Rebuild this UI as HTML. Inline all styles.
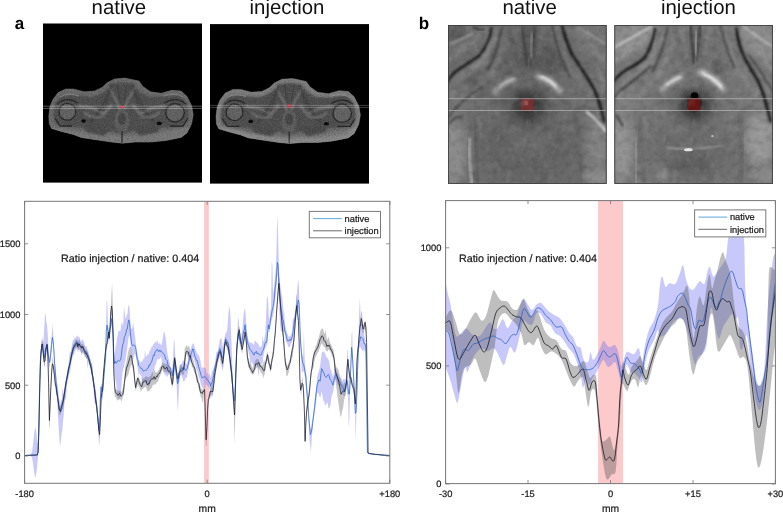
<!DOCTYPE html>
<html><head><meta charset="utf-8"><title>Figure</title>
<style>
html,body{margin:0;padding:0;background:#fff;}
body{width:783px;height:512px;overflow:hidden;font-family:"Liberation Sans", Arial, sans-serif;}
svg{display:block;position:absolute;left:0;top:0;}
text{font-family:"Liberation Sans", Arial, sans-serif;fill:#1a1a1a;text-rendering:geometricPrecision;}
svg{will-change:transform;}
.tk{font-size:9.3px;stroke:#1a1a1a;stroke-width:0.22px;}
.ti{font-size:20.4px;fill:#111;}
.pl{font-size:17px;font-weight:bold;fill:#000;}
.rt{font-size:10.75px;fill:#1c1c1c;stroke:#1c1c1c;stroke-width:0.22px;}
.mm{font-size:10.3px;stroke:#1a1a1a;stroke-width:0.2px;}
</style></head>
<body>
<svg width="783" height="512" viewBox="0 0 783 512">
<defs>

<filter id="b05" x="-20%" y="-20%" width="140%" height="140%"><feGaussianBlur stdDeviation="0.5"/></filter>
<filter id="b1" x="-20%" y="-20%" width="140%" height="140%"><feGaussianBlur stdDeviation="1"/></filter>
<filter id="b2" x="-30%" y="-30%" width="160%" height="160%"><feGaussianBlur stdDeviation="2"/></filter>
<filter id="b3" x="-30%" y="-30%" width="160%" height="160%"><feGaussianBlur stdDeviation="3.2"/></filter>
<filter id="b5" x="-40%" y="-40%" width="180%" height="180%"><feGaussianBlur stdDeviation="5"/></filter>
<filter id="b8" x="-50%" y="-50%" width="200%" height="200%"><feGaussianBlur stdDeviation="8"/></filter>
<filter id="nz" x="0" y="0" width="100%" height="100%">
 <feTurbulence type="fractalNoise" baseFrequency="0.75" numOctaves="2" seed="4" result="n"/>
 <feColorMatrix in="n" type="matrix" values="0 0 0 0 1  0 0 0 0 1  0 0 0 0 1  2.2 0 0 0 -0.85" result="na"/>
 <feComposite in="na" in2="SourceGraphic" operator="in"/>
</filter>
<filter id="nzd" x="0" y="0" width="100%" height="100%">
 <feTurbulence type="fractalNoise" baseFrequency="0.7" numOctaves="2" seed="11" result="n"/>
 <feColorMatrix in="n" type="matrix" values="0 0 0 0 0  0 0 0 0 0  0 0 0 0 0  0 2.2 0 0 -0.85" result="na"/>
 <feComposite in="na" in2="SourceGraphic" operator="in"/>
</filter>
<filter id="mtw" x="0" y="0" width="100%" height="100%">
 <feTurbulence type="fractalNoise" baseFrequency="0.14 0.11" numOctaves="3" seed="5" result="n"/>
 <feColorMatrix in="n" type="matrix" values="0 0 0 0 1  0 0 0 0 1  0 0 0 0 1  3 0 0 0 -1.35" result="na"/>
 <feComposite in="na" in2="SourceGraphic" operator="in"/>
</filter>
<filter id="mtd" x="0" y="0" width="100%" height="100%">
 <feTurbulence type="fractalNoise" baseFrequency="0.12 0.15" numOctaves="3" seed="23" result="n"/>
 <feColorMatrix in="n" type="matrix" values="0 0 0 0 0  0 0 0 0 0  0 0 0 0 0  0 3 0 0 -1.35" result="na"/>
 <feComposite in="na" in2="SourceGraphic" operator="in"/>
</filter>
<path id="bodyo" d="M125 78.1 L114.6 78.9 L107 82.7 L102.4 87.2 L94.8 91 L84.2 91.8 L73.5 89 L65.9 89 L58.2 92.6 L52.9 99.4 L49.9 107 L48.8 116.2 L49.3 123.8 L51.6 128.4 L61.3 131.4 L73.5 134.5 L81.1 137.5 L96.3 139.8 L111.6 142.1 L122.6 143.2 L135.2 142.1 L150.5 142.1 L165.7 140.6 L181 137.5 L187 133 L191.6 123.8 L193.2 114.7 L191.6 105.5 L187 96.4 L181 91 L171.8 90.3 L161.2 93.3 L150.5 91.8 L142.9 86.5 L139 81.1 L129.1 78.9Z"/>
<clipPath id="bodyc"><use href="#bodyo"/></clipPath>
<clipPath id="ia1"><rect x="43" y="23.5" width="159" height="159.1"/></clipPath>
<clipPath id="ib1"><rect x="0" y="0" width="158.6" height="158.7"/></clipPath>
<g id="pelvis">
 <use href="#bodyo" fill="#6a6a6a"/>
 <g clip-path="url(#bodyc)">
  <!-- inner muscle mass (darker) -->
  <path d="M122 82 L110 84 L104 92 L92 97 L76 95 L62 95 L55 103 L53 115 L56 124 L70 127 L84 128 L96 131 L110 131 L122 134 L134 131 L148 131 L160 128 L174 127 L186 124 L189 114 L187 103 L180 95 L166 96 L150 97 L140 92 L134 84Z" fill="#4e4e4e" filter="url(#b1)"/>
  <!-- lower fat brighter -->
  <path d="M50 126 L75 131 L100 134 L122 136 L146 134 L170 131 L192 126 L192 146 L50 146Z" fill="#7a7a7a" filter="url(#b1)" opacity="0.9"/>
  <!-- gluteal muscles darker wedges -->
  <path d="M84 124 L112 128 L104 136 L86 132Z" fill="#4a4a4a" filter="url(#b1)"/>
  <path d="M160 124 L132 128 L140 136 L158 132Z" fill="#4a4a4a" filter="url(#b1)"/>
  <!-- femoral heads -->
  <circle cx="67.4" cy="111.8" r="8.4" fill="#626262" stroke="#262626" stroke-width="1.3" filter="url(#b05)"/>
  <circle cx="175" cy="112.8" r="9.2" fill="#626262" stroke="#262626" stroke-width="1.3" filter="url(#b05)"/>
  <path d="M57 104 Q67 96 78 103" fill="none" stroke="#222" stroke-width="1.2" filter="url(#b05)"/>
  <path d="M186 104 Q176 96 164 103" fill="none" stroke="#222" stroke-width="1.2" filter="url(#b05)"/>
  <path d="M60 97 Q68 92 79 96" fill="none" stroke="#808080" stroke-width="1.2" filter="url(#b05)"/>
  <path d="M183 97 Q175 92 163 96" fill="none" stroke="#808080" stroke-width="1.2" filter="url(#b05)"/>
  <!-- greater trochanter / dark rims -->
  <path d="M55 118 L60 126 L72 126" fill="none" stroke="#242424" stroke-width="1.3" filter="url(#b05)"/>
  <path d="M188 118 L183 126 L170 126" fill="none" stroke="#242424" stroke-width="1.3" filter="url(#b05)"/>
  <!-- ischium bright streaks -->
  <path d="M78 106 L92 108 L104 114 L112 104" fill="none" stroke="#8e8e8e" stroke-width="1.5" filter="url(#b1)"/>
  <path d="M166 106 L152 108 L140 114 L132 104" fill="none" stroke="#8e8e8e" stroke-width="1.5" filter="url(#b1)"/>
  <path d="M108 86 L116 100 L120 110" fill="none" stroke="#808080" stroke-width="1.6" filter="url(#b1)"/>
  <path d="M136 86 L128 100 L124 110" fill="none" stroke="#808080" stroke-width="1.6" filter="url(#b1)"/>
  <path d="M112 84 L106 100 L96 116 L90 122" fill="none" stroke="#303030" stroke-width="1.4" filter="url(#b1)"/>
  <path d="M132 84 L138 100 L148 116 L154 122" fill="none" stroke="#303030" stroke-width="1.4" filter="url(#b1)"/>
  <path d="M84 112 Q92 120 104 116" fill="none" stroke="#7a7a7a" stroke-width="1.8" filter="url(#b1)"/>
  <path d="M160 112 Q152 120 140 116" fill="none" stroke="#7a7a7a" stroke-width="1.8" filter="url(#b1)"/>
  <!-- air gaps -->
  <ellipse cx="83.6" cy="121" rx="2.4" ry="1.8" fill="#050505"/>
  <ellipse cx="159.2" cy="123.4" rx="2.6" ry="1.8" fill="#050505"/>
  <!-- central organ -->
  <ellipse cx="122" cy="121" rx="7.4" ry="12" fill="#5c5c5c" filter="url(#b05)"/>
  <ellipse cx="122" cy="119" rx="4" ry="6" fill="#444" filter="url(#b05)"/>
  <path d="M122 131 L122 144" stroke="#222" stroke-width="1.2"/>
  <path d="M117 84 L120 100 M127 84 L124 100" stroke="#3c3c3c" stroke-width="1" filter="url(#b05)"/>
  <!-- speckle -->
  <use href="#bodyo" fill="#fff" filter="url(#nz)" opacity="0.10"/>
  <use href="#bodyo" fill="#000" filter="url(#nzd)" opacity="0.16"/>
 </g>
 <use href="#bodyo" fill="none" stroke="#7c7c7c" stroke-width="0.7" opacity="0.7"/>
</g>

<clipPath id="cl"><rect x="24.6" y="201.3" width="365.2" height="282"/></clipPath>
<clipPath id="cr"><rect x="445.6" y="200.6" width="329.8" height="283"/></clipPath>
</defs>
<rect width="783" height="512" fill="#fff"/>
<!-- titles -->
<text x="91.6" y="14.4" class="ti">native</text>
<text x="249.6" y="14.4" class="ti">injection</text>
<text x="502.4" y="14.4" class="ti">native</text>
<text x="661" y="14.4" class="ti">injection</text>
<text x="14.8" y="29.2" class="pl">a</text>
<text x="418.8" y="29.2" class="pl">b</text>

<!-- panel a -->
<rect x="43" y="23.5" width="159" height="159.1" fill="#000"/>
<use href="#pelvis"/>
<rect x="120" y="105.8" width="4.2" height="2.2" rx="0.8" fill="#cf3048"/>
<path d="M43 106.2h159M43 108.4h159" fill="none" stroke="#fff" stroke-width="0.9" opacity="0.36"/>
<rect x="210" y="24.1" width="159" height="159.5" fill="#000"/>
<g transform="translate(167.2 0.4)"><use href="#pelvis"/><g clip-path="url(#bodyc)"><use href="#bodyo" fill="none" stroke="#fff" stroke-width="9" opacity="0.12" filter="url(#b1)"/></g></g>
<rect x="287.7" y="103.9" width="3.1" height="4.2" rx="0.8" fill="#c62e3e"/>
<path d="M210 105.4h159M210 107.4h159" fill="none" stroke="#fff" stroke-width="0.9" opacity="0.27"/>
<!-- panel b -->
<g transform="translate(448 25.1)"><rect x="0" y="0" width="158.6" height="158.7" fill="#6b6b6b"/>
<g clip-path="url(#ib1)">
<ellipse cx="14" cy="12" rx="30" ry="14" fill="#6e6e6e" filter="url(#b5)" transform="rotate(-28 14 12)"/>
<ellipse cx="20" cy="60" rx="22" ry="16" fill="#626262" filter="url(#b5)" />
<ellipse cx="4" cy="6" rx="14" ry="10" fill="#5a5a5a" filter="url(#b3)" />
<ellipse cx="146" cy="14" rx="26" ry="16" fill="#747474" filter="url(#b5)" transform="rotate(40 146 14)"/>
<ellipse cx="80" cy="22" rx="20" ry="24" fill="#5a5a5a" filter="url(#b5)" />
<ellipse cx="100" cy="36" rx="16" ry="14" fill="#565656" filter="url(#b5)" />
<ellipse cx="58" cy="40" rx="12" ry="14" fill="#626262" filter="url(#b5)" />
<ellipse cx="79" cy="124" rx="46" ry="34" fill="#646464" filter="url(#b8)" />
<ellipse cx="6" cy="128" rx="13" ry="34" fill="#8a8a8a" filter="url(#b5)" />
<ellipse cx="150" cy="118" rx="12" ry="28" fill="#828282" filter="url(#b5)" />
<ellipse cx="150" cy="152" rx="14" ry="8" fill="#8c8c8c" filter="url(#b3)" />
<ellipse cx="10" cy="74" rx="14" ry="16" fill="#747474" filter="url(#b5)" />
<ellipse cx="146" cy="66" rx="10" ry="14" fill="#727272" filter="url(#b5)" />
<path d="M2 19 L24 9" fill="none" stroke="#989898" stroke-width="2" stroke-linecap="round" filter="url(#b1)" />
<path d="M0 34 L22 20 L34 6" fill="none" stroke="#858585" stroke-width="2.4" stroke-linecap="round" filter="url(#b2)" />
<path d="M10 58 L34 36 L48 8" fill="none" stroke="#848484" stroke-width="3" stroke-linecap="round" filter="url(#b2)" />
<path d="M24 70 L46 44 L58 14" fill="none" stroke="#7e7e7e" stroke-width="3" stroke-linecap="round" filter="url(#b2)" />
<path d="M156 18 L134 4" fill="none" stroke="#929292" stroke-width="2.2" stroke-linecap="round" filter="url(#b1)" />
<path d="M158 40 L142 20 L130 2" fill="none" stroke="#8a8a8a" stroke-width="2.6" stroke-linecap="round" filter="url(#b2)" />
<path d="M158 62 L150 44" fill="none" stroke="#8c8c8c" stroke-width="2.4" stroke-linecap="round" filter="url(#b2)" />
<path d="M138 66 L118 36 L106 8" fill="none" stroke="#7a7a7a" stroke-width="3" stroke-linecap="round" filter="url(#b2)" />
<path d="M43.7 3 Q42 18 31 31 Q20 38 9.4 45.3 Q3 50 0 56" fill="none" stroke="#1e1e1e" stroke-width="2.8" stroke-linecap="round" filter="url(#b1)" />
<path d="M47 4 Q46 20 35 34 Q24 42 13 49 Q6 54 2 60" fill="none" stroke="#8a8a8a" stroke-width="2.2" stroke-linecap="round" filter="url(#b2)" />
<path d="M114 1 Q118 16 123.3 28 Q131 40 140.5 54.7 Q148 66 152 80 L156 96" fill="none" stroke="#1c1c1c" stroke-width="3" stroke-linecap="round" filter="url(#b1)" />
<path d="M0 92 Q12 76 34 62" fill="none" stroke="#454545" stroke-width="1.8" stroke-linecap="round" filter="url(#b1)" />
<path d="M26 2 Q30 6 36 4" fill="none" stroke="#3a3a3a" stroke-width="2" stroke-linecap="round" filter="url(#b1)" />
<path d="M55 0 L51 14 Q48 30 40 44" fill="none" stroke="#484848" stroke-width="2.4" stroke-linecap="round" filter="url(#b1)" />
<path d="M104 0 L108 16 Q112 34 122 52" fill="none" stroke="#484848" stroke-width="2.4" stroke-linecap="round" filter="url(#b1)" />
<path d="M74 0 L79 40" fill="none" stroke="#3e3e3e" stroke-width="2.4" stroke-linecap="round" filter="url(#b1)" />
<path d="M88 0 L82 40" fill="none" stroke="#404040" stroke-width="2.2" stroke-linecap="round" filter="url(#b1)" />
<path d="M84 8 L83 32" fill="none" stroke="#8c8c8c" stroke-width="1.8" stroke-linecap="round" filter="url(#b1)" />
<path d="M66 0 L72 30" fill="none" stroke="#7c7c7c" stroke-width="2.4" stroke-linecap="round" filter="url(#b2)" />
<path d="M96 0 L90 30" fill="none" stroke="#7c7c7c" stroke-width="2.4" stroke-linecap="round" filter="url(#b2)" />
<path d="M46 68 Q54 58 66 54" fill="none" stroke="#9e9e9e" stroke-width="4.5" stroke-linecap="round" filter="url(#b2)" />
<path d="M52 62 Q58 56 66 54" fill="none" stroke="#b8b8b8" stroke-width="2.4" stroke-linecap="round" filter="url(#b1)" />
<path d="M90 51 Q102 54 112 66" fill="none" stroke="#c2c2c2" stroke-width="5" stroke-linecap="round" filter="url(#b2)" />
<path d="M93 52 Q102 55 108 62" fill="none" stroke="#e6e6e6" stroke-width="2.6" stroke-linecap="round" filter="url(#b1)" />
<ellipse cx="80" cy="80" rx="27" ry="22" fill="#585858" filter="url(#b5)" opacity="0.75"/>
<ellipse cx="80" cy="81" rx="15.5" ry="15" fill="#3c3c3c" filter="url(#b3)" />
<ellipse cx="80" cy="80" rx="6" ry="6.5" fill="#383838" filter="url(#b1)" />
<rect x="72.9" y="73.3" width="12.9" height="12.6" rx="2.4" fill="#7c3232" opacity="0.92" filter="url(#b05)"/>
<rect x="76" y="76" width="4" height="4" fill="#9a5252" opacity="0.8" filter="url(#b05)"/>
<path d="M22 114 Q20 132 24 158" fill="none" stroke="#b4b4b4" stroke-width="2.2" stroke-linecap="round" filter="url(#b1)" />
<path d="M139 87 Q148 94 158 106" fill="none" stroke="#c4c4c4" stroke-width="2.8" stroke-linecap="round" filter="url(#b1)" />
<path d="M28 96 Q26 124 30 158" fill="none" stroke="#525252" stroke-width="2.6" stroke-linecap="round" filter="url(#b2)" />
<path d="M126 90 Q134 124 132 158" fill="none" stroke="#5a5a5a" stroke-width="2.6" stroke-linecap="round" filter="url(#b2)" />
<path d="M2 98 Q8 90 14 92" fill="none" stroke="#4a4a4a" stroke-width="2" stroke-linecap="round" filter="url(#b1)" />
<ellipse cx="82" cy="118" rx="22" ry="10" fill="#707070" filter="url(#b5)" opacity="0.7"/>
<rect x="0" y="0" width="158.6" height="158.7" fill="#fff" filter="url(#mtw)" opacity="0.07"/>
<rect x="0" y="0" width="158.6" height="158.7" fill="#000" filter="url(#mtd)" opacity="0.09"/>
<path d="M0 73.6h158.6M0 85.4h158.6" fill="none" stroke="#d0d0d0" stroke-width="0.9" opacity="0.6"/>
</g>
<rect x="0.4" y="0.4" width="157.8" height="157.9" fill="none" stroke="#3a3a3a" stroke-width="0.8"/></g>
<g transform="translate(614.4 25.1)"><rect x="0" y="0" width="158.6" height="158.7" fill="#747474"/>
<g clip-path="url(#ib1)">
<ellipse cx="14" cy="14" rx="30" ry="14" fill="#8e8e8e" filter="url(#b5)" transform="rotate(-28 14 14)"/>
<ellipse cx="146" cy="14" rx="26" ry="16" fill="#8c8c8c" filter="url(#b5)" transform="rotate(40 146 14)"/>
<ellipse cx="80" cy="20" rx="22" ry="20" fill="#6a6a6a" filter="url(#b5)" />
<ellipse cx="79" cy="128" rx="44" ry="30" fill="#6c6c6c" filter="url(#b8)" />
<ellipse cx="78" cy="138" rx="22" ry="11" fill="#616161" filter="url(#b5)" />
<ellipse cx="7" cy="124" rx="12" ry="34" fill="#929292" filter="url(#b5)" />
<ellipse cx="146" cy="114" rx="15" ry="26" fill="#979797" filter="url(#b5)" />
<ellipse cx="150" cy="150" rx="12" ry="8" fill="#8a8a8a" filter="url(#b3)" />
<ellipse cx="10" cy="76" rx="13" ry="14" fill="#808080" filter="url(#b5)" />
<ellipse cx="146" cy="66" rx="9" ry="12" fill="#7c7c7c" filter="url(#b5)" />
<path d="M0 22 L22 10 L36 2" fill="none" stroke="#bdbdbd" stroke-width="2.4" stroke-linecap="round" filter="url(#b1)" />
<path d="M0 36 L24 20 L40 4" fill="none" stroke="#999" stroke-width="2.6" stroke-linecap="round" filter="url(#b2)" />
<path d="M8 60 L34 38 L50 8" fill="none" stroke="#8e8e8e" stroke-width="3" stroke-linecap="round" filter="url(#b2)" />
<path d="M26 70 L48 44 L60 12" fill="none" stroke="#8a8a8a" stroke-width="3" stroke-linecap="round" filter="url(#b2)" />
<path d="M158 22 L138 8 L128 0" fill="none" stroke="#b0b0b0" stroke-width="2.4" stroke-linecap="round" filter="url(#b1)" />
<path d="M158 46 L142 22 L132 4" fill="none" stroke="#979797" stroke-width="2.8" stroke-linecap="round" filter="url(#b2)" />
<path d="M140 70 L120 38 L108 8" fill="none" stroke="#8a8a8a" stroke-width="3" stroke-linecap="round" filter="url(#b2)" />
<path d="M40.6 4 Q38 20 30.5 32.5 Q22 40 12 44.7 Q4 50 0 55" fill="none" stroke="#1e1e1e" stroke-width="2.8" stroke-linecap="round" filter="url(#b1)" />
<path d="M36.5 40.6 Q24 52 4 67 L0 72" fill="none" stroke="#444" stroke-width="2" stroke-linecap="round" filter="url(#b1)" />
<path d="M122 4 Q124 20 130 32.5 Q136 44 142 52.8 Q148 64 152 80 L156 96" fill="none" stroke="#1c1c1c" stroke-width="3" stroke-linecap="round" filter="url(#b1)" />
<path d="M134 30 Q146 44 158 66" fill="none" stroke="#4a4a4a" stroke-width="1.8" stroke-linecap="round" filter="url(#b1)" />
<path d="M54 0 L50 16 Q46 32 38 46" fill="none" stroke="#505050" stroke-width="2.4" stroke-linecap="round" filter="url(#b1)" />
<path d="M106 0 L110 16 Q114 30 120 42" fill="none" stroke="#505050" stroke-width="2.4" stroke-linecap="round" filter="url(#b1)" />
<path d="M76 0 L79.5 38" fill="none" stroke="#3a3a3a" stroke-width="2.4" stroke-linecap="round" filter="url(#b1)" />
<path d="M86 0 L82 36" fill="none" stroke="#444" stroke-width="2.2" stroke-linecap="round" filter="url(#b1)" />
<path d="M82 6 L81 30" fill="none" stroke="#a4a4a4" stroke-width="1.8" stroke-linecap="round" filter="url(#b1)" />
<path d="M66 0 L72 32" fill="none" stroke="#8e8e8e" stroke-width="2.6" stroke-linecap="round" filter="url(#b2)" />
<path d="M96 0 L90 30" fill="none" stroke="#8c8c8c" stroke-width="2.6" stroke-linecap="round" filter="url(#b2)" />
<ellipse cx="103.5" cy="42" rx="6.5" ry="8" fill="#5e5e5e" filter="url(#b2)" />
<path d="M48 64 Q56 56 67 51" fill="none" stroke="#b4b4b4" stroke-width="4.5" stroke-linecap="round" filter="url(#b2)" />
<path d="M52 60 Q58 55 66 52" fill="none" stroke="#d8d8d8" stroke-width="2.4" stroke-linecap="round" filter="url(#b1)" />
<path d="M86 47 Q98 51 109 64" fill="none" stroke="#d0d0d0" stroke-width="5" stroke-linecap="round" filter="url(#b2)" />
<path d="M89 48.5 Q99 53 107 62" fill="none" stroke="#f2f2f2" stroke-width="2.6" stroke-linecap="round" filter="url(#b1)" />
<ellipse cx="80" cy="80" rx="26" ry="22" fill="#606060" filter="url(#b5)" opacity="0.75"/>
<ellipse cx="80" cy="80" rx="15" ry="15" fill="#414141" filter="url(#b3)" />
<ellipse cx="80" cy="78" rx="7" ry="8.5" fill="#1e1e1e" filter="url(#b1)" />
<ellipse cx="80.2" cy="70.4" rx="3.6" ry="3.2" fill="#060606" filter="url(#b05)" />
<rect x="73.5" y="73.3" width="12.3" height="12.7" rx="2.4" fill="#6c1818" opacity="0.95" filter="url(#b05)"/>
<path d="M52.8 122.6 Q78 126 105.6 120.6" fill="none" stroke="#989898" stroke-width="1.8" stroke-linecap="round" filter="url(#b1)" />
<ellipse cx="74" cy="124.6" rx="4.4" ry="1.6" fill="#e8e8e8" filter="url(#b05)" />
<ellipse cx="98" cy="111" rx="1.2" ry="1.2" fill="#bbb" filter="url(#b05)" />
<path d="M22 114 Q20 132 22 158" fill="none" stroke="#a8a8a8" stroke-width="2.4" stroke-linecap="round" filter="url(#b2)" />
<path d="M124 90 Q130 120 126 158" fill="none" stroke="#5a5a5a" stroke-width="2.6" stroke-linecap="round" filter="url(#b2)" />
<path d="M26 96 Q24 124 30 158" fill="none" stroke="#5c5c5c" stroke-width="2.4" stroke-linecap="round" filter="url(#b2)" />
<path d="M2 90 L8 100" fill="none" stroke="#4a4a4a" stroke-width="2.4" stroke-linecap="round" filter="url(#b1)" />
<ellipse cx="48" cy="150" rx="5" ry="6" fill="#8e8e8e" filter="url(#b2)" />
<rect x="0" y="0" width="158.6" height="158.7" fill="#fff" filter="url(#mtw)" opacity="0.07"/>
<rect x="0" y="0" width="158.6" height="158.7" fill="#000" filter="url(#mtd)" opacity="0.09"/>
<path d="M0 73.6h158.6M0 85.4h158.6" fill="none" stroke="#d0d0d0" stroke-width="0.9" opacity="0.6"/>
</g>
<rect x="0.4" y="0.4" width="157.8" height="157.9" fill="none" stroke="#3a3a3a" stroke-width="0.8"/></g>

<!-- left plot -->
<g clip-path="url(#cl)">
<rect x="204.1" y="201.3" width="4.8" height="282" fill="#fccaca"/>
<path d="M24.6 455.2 L25.3 455.2 L26 455.1 L26.7 455.1 L27.4 455 L28.1 455 L28.8 455 L29.5 454.9 L30.2 454.7 L30.9 454.2 L31.6 452.8 L32.3 449.9 L33 444.8 L33.7 438.1 L34.4 431.5 L35.1 427.8 L35.8 428.8 L36.5 434 L37.2 440.9 L37.9 444.1 L38.6 426.3 L39.3 392.6 L40 366.2 L40.7 351.9 L41.4 341.7 L42.1 338.7 L42.8 342.3 L43.5 340.2 L44.2 328.4 L44.9 315.3 L45.6 313.7 L46.3 321.5 L47 325 L47.7 333.2 L48.4 346.2 L49.1 354.8 L49.8 357.4 L50.5 348.8 L51.2 341.2 L51.9 332.5 L52.6 323.2 L53.3 334.8 L54 348.6 L54.7 358.7 L55.4 367.1 L56.1 374.6 L56.8 382.4 L57.5 384 L58.2 389.9 L58.9 398.3 L59.6 400.8 L60.3 403.4 L61 399.7 L61.7 400.1 L62.4 388.7 L63.1 390.6 L63.8 394.2 L64.5 389.8 L65.2 383.8 L65.9 378.4 L66.6 375.6 L67.3 372.3 L68 367.5 L68.7 362.4 L69.4 355.3 L70.1 351.2 L70.8 352.5 L71.5 347.3 L72.2 343.6 L72.9 340.1 L73.6 339.9 L74.3 337.5 L75 338.5 L75.7 337.9 L76.4 336.7 L77.1 335.3 L77.8 336.6 L78.5 336.9 L79.2 337.5 L79.9 337.3 L80.6 341.3 L81.3 341 L82 340 L82.7 339 L83.4 340.8 L84.1 342 L84.8 345 L85.5 346.9 L86.2 346.1 L86.9 347.3 L87.6 350.1 L88.3 350.7 L89 354.8 L89.7 356.1 L90.4 359.5 L91.1 362.6 L91.8 366.3 L92.5 369.4 L93.2 375.2 L93.9 378.7 L94.6 385.1 L95.3 387 L96 391.8 L96.7 400.3 L97.4 409.4 L98.1 414 L98.8 423.9 L99.5 427.5 L100.2 394.2 L100.9 384.8 L101.6 383.9 L102.3 385 L103 371.2 L103.7 369 L104.4 364.6 L105.1 356.9 L105.8 346.1 L106.5 302.4 L107.2 299.7 L107.9 321.5 L108.6 332.2 L109.3 330.9 L110 324.5 L110.7 318 L111.4 311.6 L112.1 312.9 L112.8 325.4 L113.5 339.6 L114.2 354.8 L114.9 352.4 L115.6 346.2 L116.3 344.8 L117 337.8 L117.7 335.7 L118.4 330.8 L119.1 331.3 L119.8 330.6 L120.5 331.2 L121.2 324.5 L121.9 321.8 L122.6 325.9 L123.3 322.2 L124 305.7 L124.7 312.8 L125.4 318.2 L126.1 317.5 L126.8 315 L127.5 313.7 L128.2 306.4 L128.9 304.4 L129.6 308.5 L130.3 321.6 L131 328.8 L131.7 328.9 L132.4 326.9 L133.1 322.5 L133.8 327.3 L134.5 332.8 L135.2 337.2 L135.9 344.5 L136.6 350.3 L137.3 353.5 L138 355.8 L138.7 359.9 L139.4 360.8 L140.1 361.5 L140.8 363.3 L141.5 361.2 L142.2 361.4 L142.9 359.7 L143.6 358.6 L144.3 359.3 L145 349 L145.7 356.1 L146.4 356.8 L147.1 355.2 L147.8 353.6 L148.5 355 L149.2 352 L149.9 350.6 L150.6 349.5 L151.3 347.6 L152 345.9 L152.7 346.6 L153.4 343.9 L154.1 343.8 L154.8 342.6 L155.5 341.4 L156.2 343 L156.9 340.5 L157.6 340.8 L158.3 344.5 L159 342.9 L159.7 343.6 L160.4 343.6 L161.1 345.6 L161.8 344.5 L162.5 339.4 L163.2 335.4 L163.9 332.1 L164.6 332.2 L165.3 335.4 L166 339.9 L166.7 347.7 L167.4 352.8 L168.1 357.3 L168.8 359.6 L169.5 361.5 L170.2 365.7 L170.9 366.9 L171.6 368.2 L172.3 370.7 L173 358.8 L173.7 342.8 L174.4 339.1 L175.1 351.9 L175.8 361.9 L176.5 368.6 L177.2 373.2 L177.9 378.9 L178.6 372.9 L179.3 370.4 L180 363.7 L180.7 365.1 L181.4 364 L182.1 362.4 L182.8 361.3 L183.5 360.3 L184.2 361.6 L184.9 362.9 L185.6 363.5 L186.3 363.6 L187 364.2 L187.7 360.8 L188.4 359.5 L189.1 345.9 L189.8 352.3 L190.5 349 L191.2 348.1 L191.9 345 L192.6 343.9 L193.3 343.3 L194 343.9 L194.7 347.1 L195.4 349.5 L196.1 350 L196.8 353 L197.5 353.2 L198.2 355.4 L198.9 354.7 L199.6 357.6 L200.3 360.2 L201 364.3 L201.7 367.7 L202.4 367.8 L203.1 367.2 L203.8 367.4 L204.5 367.5 L205.2 367.9 L205.9 368.4 L206.6 372.9 L207.3 372.7 L208 375.4 L208.7 374.9 L209.4 372.7 L210.1 376.3 L210.8 377.4 L211.5 374.2 L212.2 371.2 L212.9 369.4 L213.6 368.1 L214.3 366.4 L215 361.4 L215.7 357.9 L216.4 351.6 L217.1 352.1 L217.8 351.3 L218.5 347.1 L219.2 343.3 L219.9 338.7 L220.6 339.3 L221.3 337.8 L222 341.2 L222.7 347.2 L223.4 344.3 L224.1 341.1 L224.8 336.5 L225.5 333.4 L226.2 332.5 L226.9 331.5 L227.6 325.2 L228.3 314.6 L229 307.3 L229.7 308.1 L230.4 314.8 L231.1 331.6 L231.8 351.3 L232.5 371 L233.2 385.1 L233.9 392.3 L234.6 397.3 L235.3 379.7 L236 360.2 L236.7 346.1 L237.4 330.6 L238.1 316.4 L238.8 321.1 L239.5 330.1 L240.2 335.6 L240.9 340.2 L241.6 334.8 L242.3 330.6 L243 320.5 L243.7 313 L244.4 310.3 L245.1 307.8 L245.8 316.1 L246.5 326.1 L247.2 333.7 L247.9 338.5 L248.6 340.5 L249.3 342 L250 342 L250.7 343.2 L251.4 342.6 L252.1 342.9 L252.8 343.7 L253.5 345.2 L254.2 343.3 L254.9 341.1 L255.6 340.6 L256.3 342.5 L257 342.6 L257.7 343.3 L258.4 343.9 L259.1 345.8 L259.8 347.6 L260.5 346.4 L261.2 346.9 L261.9 345 L262.6 335.7 L263.3 341.4 L264 340.1 L264.7 337.1 L265.4 331.8 L266.1 316.4 L266.8 298.1 L267.5 296.2 L268.2 301.8 L268.9 317.9 L269.6 319.3 L270.3 311.8 L271 307.7 L271.7 261.7 L272.4 265.1 L273.1 294.3 L273.8 290 L274.5 281.7 L275.2 274.8 L275.9 267.3 L276.6 245 L277.3 214.9 L278 229.7 L278.7 260.3 L279.4 276.4 L280.1 284.6 L280.8 288.2 L281.5 293.9 L282.2 296.8 L282.9 303.2 L283.6 310.8 L284.3 314.3 L285 324.3 L285.7 328.3 L286.4 330.3 L287.1 333 L287.8 334.4 L288.5 337 L289.2 335.9 L289.9 336.7 L290.6 335.3 L291.3 333.8 L292 332.3 L292.7 319.4 L293.4 319 L294.1 317.2 L294.8 312.9 L295.5 308.4 L296.2 301.8 L296.9 293.1 L297.6 284.8 L298.3 279.6 L299 287.6 L299.7 314.1 L300.4 334.1 L301.1 339.9 L301.8 350.2 L302.5 355.5 L303.2 356.7 L303.9 330.3 L304.6 357.1 L305.3 368.7 L306 373.3 L306.7 375.5 L307.4 389.8 L308.1 401.7 L308.8 414.1 L309.5 419.9 L310.2 427.3 L310.9 428.7 L311.6 424.2 L312.3 419.4 L313 415.3 L313.7 409.5 L314.4 403 L315.1 395.4 L315.8 389.8 L316.5 384.8 L317.2 377 L317.9 373.6 L318.6 372.3 L319.3 369.6 L320 366.3 L320.7 360.7 L321.4 355.4 L322.1 351.6 L322.8 352.1 L323.5 351.6 L324.2 352.1 L324.9 353.1 L325.6 354.4 L326.3 357.6 L327 356.4 L327.7 358.9 L328.4 359.6 L329.1 361 L329.8 365.2 L330.5 369.2 L331.2 370 L331.9 373 L332.6 374.9 L333.3 377.2 L334 372.1 L334.7 369 L335.4 367.9 L336.1 369.3 L336.8 371.8 L337.5 373 L338.2 374 L338.9 377 L339.6 376.5 L340.3 378.5 L341 379.8 L341.7 382 L342.4 381.2 L343.1 379.8 L343.8 378.5 L344.5 380.3 L345.2 378.3 L345.9 379.4 L346.6 369.4 L347.3 349 L348 351.6 L348.7 390.9 L349.4 387.9 L350.1 375.8 L350.8 358.9 L351.5 334.3 L352.2 331.4 L352.9 354.3 L353.6 371.3 L354.3 385.3 L355 403.2 L355.7 417.9 L356.4 400.3 L357.1 384.6 L357.8 359.9 L358.5 336.6 L359.2 311 L359.9 297.9 L360.6 315.6 L361.3 323.5 L362 322.8 L362.7 324.7 L363.4 329.8 L364.1 335.2 L364.8 337.2 L365.5 340.5 L366.2 358.8 L366.9 416.3 L367.6 452.4 L368.3 452.8 L369 453.2 L369.7 453.3 L370.4 453.4 L371.1 453.5 L371.8 453.6 L372.5 453.7 L373.2 453.8 L373.9 453.9 L374.6 453.9 L375.3 454 L376 454.1 L376.7 454.2 L377.4 454.2 L378.1 454.3 L378.8 454.4 L379.5 454.4 L380.2 454.5 L380.9 454.6 L381.6 454.7 L382.3 454.7 L383 454.8 L383.7 454.8 L384.4 454.9 L385.1 454.9 L385.8 454.9 L386.5 455 L387.2 455 L387.9 455.1 L388.6 455.1 L389.3 455.2 L389.8 455.2 L389.8 455.8 L389.3 455.8 L388.6 455.7 L387.9 455.7 L387.2 455.6 L386.5 455.6 L385.8 455.5 L385.1 455.5 L384.4 455.5 L383.7 455.4 L383 455.4 L382.3 455.3 L381.6 455.3 L380.9 455.2 L380.2 455.1 L379.5 455 L378.8 455 L378.1 454.9 L377.4 454.8 L376.7 454.8 L376 454.7 L375.3 454.6 L374.6 454.5 L373.9 454.5 L373.2 454.4 L372.5 454.3 L371.8 454.2 L371.1 454.1 L370.4 454 L369.7 453.9 L369 453.8 L368.3 453.4 L367.6 453 L366.9 424.4 L366.2 367 L365.5 352.4 L364.8 350.9 L364.1 350.3 L363.4 350.5 L362.7 351.8 L362 349.3 L361.3 349.8 L360.6 347.5 L359.9 347.1 L359.2 348.1 L358.5 350.3 L357.8 369.3 L357.1 394.2 L356.4 415.6 L355.7 440.4 L355 416 L354.3 397.3 L353.6 381 L352.9 369.6 L352.2 358.8 L351.5 356.4 L350.8 369.2 L350.1 388.3 L349.4 419.4 L348.7 427.3 L348 393.9 L347.3 396.2 L346.6 387.7 L345.9 390.6 L345.2 396.6 L344.5 396.1 L343.8 396 L343.1 394.3 L342.4 393.6 L341.7 391.9 L341 390.5 L340.3 388.6 L339.6 386.3 L338.9 384.6 L338.2 385.9 L337.5 383.3 L336.8 382.5 L336.1 379.1 L335.4 380.1 L334.7 383.7 L334 386 L333.3 391.8 L332.6 393.3 L331.9 395.3 L331.2 398.8 L330.5 405.4 L329.8 406.4 L329.1 408.2 L328.4 408.2 L327.7 403.1 L327 402.8 L326.3 403.9 L325.6 405.6 L324.9 404.8 L324.2 401.2 L323.5 401.1 L322.8 397.9 L322.1 393.7 L321.4 391.6 L320.7 396.5 L320 397.2 L319.3 396.3 L318.6 393.3 L317.9 392.4 L317.2 393 L316.5 398.4 L315.8 404.3 L315.1 409.3 L314.4 415.1 L313.7 418.6 L313 425.5 L312.3 432.3 L311.6 441.1 L310.9 452.4 L310.2 446.2 L309.5 439.4 L308.8 424.7 L308.1 412.2 L307.4 403.6 L306.7 395.6 L306 391.2 L305.3 378.2 L304.6 375.6 L303.9 371.7 L303.2 370.7 L302.5 372.6 L301.8 372.1 L301.1 355.2 L300.4 345.4 L299.7 326.8 L299 308.1 L298.3 312.8 L297.6 306.8 L296.9 309.8 L296.2 315 L295.5 318.9 L294.8 324.1 L294.1 327.7 L293.4 334.7 L292.7 339.1 L292 342.2 L291.3 343.1 L290.6 344.3 L289.9 347.3 L289.2 346.4 L288.5 347.6 L287.8 345.2 L287.1 343.3 L286.4 342 L285.7 341.1 L285 335.3 L284.3 332.4 L283.6 331.3 L282.9 333 L282.2 331.6 L281.5 331.4 L280.8 330.2 L280.1 323.8 L279.4 312.6 L278.7 291.1 L278 276.7 L277.3 275.8 L276.6 285.4 L275.9 291.4 L275.2 300.1 L274.5 305.1 L273.8 311.2 L273.1 316.6 L272.4 317.3 L271.7 320.2 L271 323.3 L270.3 326.6 L269.6 332.6 L268.9 332.1 L268.2 329 L267.5 342.5 L266.8 345.3 L266.1 346.8 L265.4 348.3 L264.7 349.5 L264 354.2 L263.3 356.2 L262.6 364.3 L261.9 363.9 L261.2 363.1 L260.5 362.7 L259.8 364.6 L259.1 372.6 L258.4 376.1 L257.7 369.7 L257 365.2 L256.3 365.3 L255.6 365.7 L254.9 364.9 L254.2 365.8 L253.5 365.8 L252.8 364 L252.1 363 L251.4 361.1 L250.7 370.2 L250 359.8 L249.3 355 L248.6 352.4 L247.9 348.8 L247.2 347.3 L246.5 342.2 L245.8 339.2 L245.1 331.3 L244.4 332.5 L243.7 339.5 L243 342.6 L242.3 344.3 L241.6 346.4 L240.9 350.5 L240.2 345.8 L239.5 343.7 L238.8 340.4 L238.1 338.8 L237.4 348.7 L236.7 361.7 L236 371.4 L235.3 391.5 L234.6 406.7 L233.9 405.7 L233.2 397 L232.5 388.5 L231.8 383.2 L231.1 378.1 L230.4 370.9 L229.7 366 L229 358.3 L228.3 350.9 L227.6 350.1 L226.9 346.4 L226.2 344.8 L225.5 344.8 L224.8 348.8 L224.1 356.9 L223.4 367 L222.7 371.1 L222 369 L221.3 365 L220.6 363.3 L219.9 357.7 L219.2 357.6 L218.5 358.1 L217.8 360.2 L217.1 362.8 L216.4 367.5 L215.7 368.9 L215 382.1 L214.3 384.1 L213.6 386.4 L212.9 392.2 L212.2 394.8 L211.5 396.9 L210.8 396.1 L210.1 394.8 L209.4 388.7 L208.7 388.1 L208 385.9 L207.3 385.8 L206.6 385.1 L205.9 382.8 L205.2 389.2 L204.5 385.2 L203.8 384.8 L203.1 388.2 L202.4 388 L201.7 386.3 L201 384.4 L200.3 381.6 L199.6 378.8 L198.9 378.1 L198.2 375.1 L197.5 371.2 L196.8 370.1 L196.1 368.2 L195.4 364.2 L194.7 362 L194 359.4 L193.3 357.9 L192.6 357.2 L191.9 357.1 L191.2 357.2 L190.5 359.9 L189.8 363.9 L189.1 364.9 L188.4 370.1 L187.7 372.5 L187 377.4 L186.3 378.3 L185.6 377.7 L184.9 381 L184.2 380.5 L183.5 382.1 L182.8 379.7 L182.1 376.1 L181.4 374.4 L180.7 375 L180 376.8 L179.3 382.8 L178.6 396.2 L177.9 411.9 L177.2 401 L176.5 382.5 L175.8 374.1 L175.1 369.9 L174.4 372.6 L173.7 383.1 L173 384.5 L172.3 380.3 L171.6 378.4 L170.9 375.6 L170.2 373.2 L169.5 372.5 L168.8 372.3 L168.1 376.2 L167.4 376.6 L166.7 376.8 L166 374.8 L165.3 375.2 L164.6 375 L163.9 370.9 L163.2 367.9 L162.5 364.8 L161.8 361.6 L161.1 357.2 L160.4 357.5 L159.7 359 L159 359.3 L158.3 359 L157.6 359.2 L156.9 360.4 L156.2 363 L155.5 365.4 L154.8 365.9 L154.1 370.9 L153.4 371.5 L152.7 376.4 L152 378.1 L151.3 380.6 L150.6 382.2 L149.9 383 L149.2 386 L148.5 386.4 L147.8 385.7 L147.1 385.6 L146.4 383.7 L145.7 383.1 L145 382.5 L144.3 382.3 L143.6 382.4 L142.9 386.4 L142.2 385.2 L141.5 376.7 L140.8 374.9 L140.1 375 L139.4 372.3 L138.7 377.3 L138 369.7 L137.3 365.8 L136.6 360.1 L135.9 355.9 L135.2 354.9 L134.5 354 L133.8 356.9 L133.1 359.7 L132.4 357.6 L131.7 354.6 L131 349.5 L130.3 340 L129.6 336.1 L128.9 335.7 L128.2 340.4 L127.5 345.8 L126.8 351.9 L126.1 355.7 L125.4 360.5 L124.7 363.1 L124 367.6 L123.3 368.8 L122.6 371.5 L121.9 378.3 L121.2 391.2 L120.5 394.6 L119.8 398.6 L119.1 399.5 L118.4 398.5 L117.7 395.5 L117 392.9 L116.3 384.2 L115.6 380.8 L114.9 376.5 L114.2 374.3 L113.5 351.4 L112.8 336.5 L112.1 324.1 L111.4 326.9 L110.7 329.1 L110 336.3 L109.3 340.5 L108.6 343 L107.9 336.8 L107.2 328.3 L106.5 330.4 L105.8 357.7 L105.1 367.7 L104.4 374.2 L103.7 384 L103 395.9 L102.3 400.5 L101.6 396.7 L100.9 395.9 L100.2 411.5 L99.5 446 L98.8 442.4 L98.1 427 L97.4 417.2 L96.7 409.8 L96 403.9 L95.3 403.6 L94.6 403 L93.9 395.4 L93.2 383.4 L92.5 381.2 L91.8 374.9 L91.1 372.6 L90.4 367.6 L89.7 367.8 L89 362.8 L88.3 361.6 L87.6 369.7 L86.9 359 L86.2 359.3 L85.5 356.7 L84.8 357 L84.1 354.3 L83.4 353.9 L82.7 352.3 L82 352.5 L81.3 353 L80.6 351.3 L79.9 351.9 L79.2 349.8 L78.5 350.2 L77.8 352.6 L77.1 348.7 L76.4 348.8 L75.7 349.9 L75 351 L74.3 353.2 L73.6 355.1 L72.9 356.8 L72.2 358.1 L71.5 362.3 L70.8 367.6 L70.1 371.2 L69.4 374 L68.7 375.9 L68 380.3 L67.3 383.8 L66.6 388.9 L65.9 400.2 L65.2 398.6 L64.5 401.1 L63.8 414.8 L63.1 420.4 L62.4 430 L61.7 433.1 L61 440 L60.3 445.8 L59.6 442.6 L58.9 432.3 L58.2 420.5 L57.5 407.8 L56.8 397 L56.1 386.8 L55.4 378.8 L54.7 377.3 L54 357.9 L53.3 347.1 L52.6 338.1 L51.9 346.3 L51.2 353.4 L50.5 358.9 L49.8 366.7 L49.1 367.4 L48.4 359.9 L47.7 355.3 L47 350.4 L46.3 354.7 L45.6 358.1 L44.9 363.4 L44.2 366.1 L43.5 359.1 L42.8 354.3 L42.1 349.7 L41.4 353.7 L40.7 359 L40 377.9 L39.3 405.3 L38.6 440.5 L37.9 458.3 L37.2 466.2 L36.5 471.9 L35.8 476.2 L35.1 477.1 L34.4 474.1 L33.7 468.9 L33 463.4 L32.3 459.4 L31.6 457.1 L30.9 456 L30.2 455.7 L29.5 455.6 L28.8 455.6 L28.1 455.6 L27.4 455.6 L26.7 455.7 L26 455.7 L25.3 455.8 L24.6 455.8Z" fill="#6b6bf0" fill-opacity="0.36"/>
<path d="M24.6 455.2 L25.3 455.2 L26 455.1 L26.7 455.1 L27.4 455.1 L28.1 455.1 L28.8 455 L29.5 455 L30.2 455 L30.9 455 L31.6 454.9 L32.3 454.9 L33 454.9 L33.7 454.8 L34.4 454.8 L35.1 454.8 L35.8 454.8 L36.5 454.7 L37.2 454.7 L37.9 453 L38.6 441.2 L39.3 405.7 L40 375.6 L40.7 352.7 L41.4 344.8 L42.1 336.5 L42.8 342.7 L43.5 350.5 L44.2 360.2 L44.9 358.2 L45.6 347.8 L46.3 344.6 L47 340.9 L47.7 351.1 L48.4 371.4 L49.1 403.5 L49.8 406.5 L50.5 391 L51.2 376.8 L51.9 364.8 L52.6 355.6 L53.3 362.1 L54 367.9 L54.7 373.9 L55.4 381.1 L56.1 384 L56.8 387.5 L57.5 390.8 L58.2 398.7 L58.9 404.6 L59.6 406.1 L60.3 407.4 L61 404.4 L61.7 402.1 L62.4 399.5 L63.1 396.4 L63.8 393.5 L64.5 388.7 L65.2 383.7 L65.9 380.4 L66.6 375.4 L67.3 371 L68 367.1 L68.7 365.8 L69.4 361.5 L70.1 358 L70.8 355 L71.5 352 L72.2 347.6 L72.9 346.4 L73.6 344.3 L74.3 342.7 L75 342 L75.7 339.6 L76.4 339.7 L77.1 339.1 L77.8 340.9 L78.5 341.4 L79.2 339.3 L79.9 340.6 L80.6 342.9 L81.3 343.8 L82 343.9 L82.7 343.8 L83.4 345 L84.1 345.7 L84.8 347.2 L85.5 349.4 L86.2 350.1 L86.9 350.7 L87.6 352.2 L88.3 354.4 L89 355.6 L89.7 358.4 L90.4 359.5 L91.1 362.8 L91.8 363.4 L92.5 366.7 L93.2 375.7 L93.9 381.1 L94.6 385.6 L95.3 391.4 L96 398.1 L96.7 403.3 L97.4 410.2 L98.1 418.2 L98.8 425.3 L99.5 431.6 L100.2 417.5 L100.9 398.9 L101.6 391 L102.3 388 L103 378.4 L103.7 369 L104.4 360.2 L105.1 351.6 L105.8 344 L106.5 342.6 L107.2 339.9 L107.9 332.4 L108.6 327 L109.3 332.5 L110 322.3 L110.7 309.2 L111.4 294.6 L112.1 283.1 L112.8 303.8 L113.5 344.8 L114.2 375.2 L114.9 388.3 L115.6 389.1 L116.3 389.5 L117 389.9 L117.7 391.4 L118.4 390.8 L119.1 389.9 L119.8 390.9 L120.5 391.1 L121.2 392.2 L121.9 391 L122.6 388.9 L123.3 386.6 L124 382.2 L124.7 376.1 L125.4 365.7 L126.1 363.5 L126.8 359.8 L127.5 355.6 L128.2 352 L128.9 349 L129.6 347.5 L130.3 346.3 L131 347.2 L131.7 352.2 L132.4 356.6 L133.1 362 L133.8 367.1 L134.5 374.7 L135.2 381.4 L135.9 383.5 L136.6 379.3 L137.3 377.5 L138 376.4 L138.7 377.1 L139.4 378.5 L140.1 380.7 L140.8 381.9 L141.5 382.4 L142.2 379.2 L142.9 378.3 L143.6 378.3 L144.3 378.2 L145 377.1 L145.7 376.5 L146.4 375.9 L147.1 377.1 L147.8 377 L148.5 377.5 L149.2 377.3 L149.9 375.9 L150.6 375.9 L151.3 374.2 L152 372.6 L152.7 372.3 L153.4 372.8 L154.1 369 L154.8 370.7 L155.5 372 L156.2 372.8 L156.9 371.8 L157.6 371.8 L158.3 369.9 L159 370.1 L159.7 367.5 L160.4 366.8 L161.1 365.6 L161.8 362.9 L162.5 362.8 L163.2 362.6 L163.9 364.4 L164.6 362.9 L165.3 363.7 L166 363.7 L166.7 364 L167.4 365.1 L168.1 364.8 L168.8 366.8 L169.5 366.6 L170.2 367.6 L170.9 372.2 L171.6 377.3 L172.3 381.9 L173 374.7 L173.7 365.9 L174.4 356.7 L175.1 357.2 L175.8 362.3 L176.5 367.4 L177.2 371.7 L177.9 374.5 L178.6 371.9 L179.3 366.9 L180 365.5 L180.7 364.3 L181.4 365 L182.1 366.5 L182.8 367.1 L183.5 364.8 L184.2 357.3 L184.9 346.4 L185.6 347.8 L186.3 345.4 L187 345.2 L187.7 347.4 L188.4 346 L189.1 346.3 L189.8 351.2 L190.5 354.4 L191.2 355.4 L191.9 356.9 L192.6 358.2 L193.3 360 L194 362.4 L194.7 366.1 L195.4 368 L196.1 370.5 L196.8 372.6 L197.5 376.2 L198.2 378.4 L198.9 381.1 L199.6 383.9 L200.3 385.7 L201 389.3 L201.7 388.9 L202.4 389.6 L203.1 388.9 L203.8 385.5 L204.5 385.7 L205.2 405.1 L205.9 427.5 L206.6 429.7 L207.3 412 L208 400.7 L208.7 395 L209.4 392.3 L210.1 389.9 L210.8 387.8 L211.5 385.9 L212.2 381 L212.9 386 L213.6 380.5 L214.3 374 L215 368.8 L215.7 364.5 L216.4 360.3 L217.1 356.9 L217.8 354.9 L218.5 352.8 L219.2 348.6 L219.9 346.3 L220.6 348.5 L221.3 351.4 L222 354.6 L222.7 358.8 L223.4 354.3 L224.1 347.4 L224.8 339.7 L225.5 336.2 L226.2 339 L226.9 339.7 L227.6 340.6 L228.3 342.4 L229 348.3 L229.7 354 L230.4 360.1 L231.1 364.2 L231.8 372.2 L232.5 379.9 L233.2 391.4 L233.9 402.5 L234.6 410.4 L235.3 389.9 L236 365.9 L236.7 349.3 L237.4 338.9 L238.1 331.9 L238.8 325.7 L239.5 327.5 L240.2 332.6 L240.9 339.4 L241.6 343.5 L242.3 343.9 L243 339.5 L243.7 336.8 L244.4 334.2 L245.1 326.9 L245.8 332.9 L246.5 340.9 L247.2 349.6 L247.9 356.1 L248.6 358.4 L249.3 361.2 L250 363.2 L250.7 364.2 L251.4 365.5 L252.1 366.6 L252.8 368.6 L253.5 365.4 L254.2 364.4 L254.9 361.5 L255.6 360.3 L256.3 358.9 L257 359 L257.7 359.2 L258.4 358.7 L259.1 361.1 L259.8 362.6 L260.5 363 L261.2 363.5 L261.9 365.2 L262.6 365.2 L263.3 363.1 L264 359.7 L264.7 362 L265.4 361.2 L266.1 356.7 L266.8 352.7 L267.5 351.7 L268.2 355.2 L268.9 357.6 L269.6 361 L270.3 364.4 L271 362.4 L271.7 358 L272.4 352.6 L273.1 349.2 L273.8 343.7 L274.5 335.6 L275.2 330.1 L275.9 318.3 L276.6 307.7 L277.3 297.7 L278 285.9 L278.7 272.7 L279.4 278.6 L280.1 292.7 L280.8 306.4 L281.5 313.9 L282.2 322.8 L282.9 326.5 L283.6 332.6 L284.3 343.7 L285 357.6 L285.7 359.1 L286.4 362.9 L287.1 364.4 L287.8 365.8 L288.5 363.5 L289.2 360.5 L289.9 358.7 L290.6 356 L291.3 351 L292 347.3 L292.7 343.4 L293.4 339.3 L294.1 333.1 L294.8 323.5 L295.5 311.5 L296.2 298.2 L296.9 293.6 L297.6 305.2 L298.3 316.9 L299 332.8 L299.7 371.9 L300.4 384.6 L301.1 386 L301.8 381.2 L302.5 376.5 L303.2 383.9 L303.9 392.8 L304.6 427.9 L305.3 431.8 L306 415.8 L306.7 405.5 L307.4 400.2 L308.1 396.4 L308.8 391.6 L309.5 385.3 L310.2 377.6 L310.9 372.1 L311.6 366.3 L312.3 361.1 L313 356.3 L313.7 352.5 L314.4 350 L315.1 348.4 L315.8 345.6 L316.5 345 L317.2 341.4 L317.9 339.4 L318.6 338.6 L319.3 335.6 L320 332.2 L320.7 330.3 L321.4 328.9 L322.1 328.4 L322.8 328.8 L323.5 330.7 L324.2 332.9 L324.9 333.5 L325.6 329.1 L326.3 336 L327 339 L327.7 339.7 L328.4 336.5 L329.1 338.9 L329.8 342 L330.5 343.9 L331.2 344.4 L331.9 347 L332.6 348.1 L333.3 349.3 L334 353.7 L334.7 358.7 L335.4 364.2 L336.1 366.5 L336.8 367.7 L337.5 368.3 L338.2 369.2 L338.9 371.4 L339.6 374.5 L340.3 379.2 L341 374.9 L341.7 380.1 L342.4 383.9 L343.1 383.3 L343.8 384.9 L344.5 381.9 L345.2 383 L345.9 381.8 L346.6 373.9 L347.3 359.8 L348 357.8 L348.7 363.6 L349.4 371.2 L350.1 373 L350.8 373.3 L351.5 377.3 L352.2 378.9 L352.9 382.3 L353.6 383.8 L354.3 388.1 L355 394.8 L355.7 405.7 L356.4 373.1 L357.1 353.4 L357.8 346.8 L358.5 339.5 L359.2 331.2 L359.9 323.6 L360.6 318 L361.3 311 L362 311.9 L362.7 323.3 L363.4 325.3 L364.1 323.7 L364.8 321.4 L365.5 321 L366.2 326.9 L366.9 356.3 L367.6 430.7 L368.3 452.8 L369 453.2 L369.7 453.3 L370.4 453.4 L371.1 453.5 L371.8 453.6 L372.5 453.7 L373.2 453.8 L373.9 453.9 L374.6 453.9 L375.3 454 L376 454.1 L376.7 454.2 L377.4 454.2 L378.1 454.3 L378.8 454.4 L379.5 454.4 L380.2 454.5 L380.9 454.6 L381.6 454.7 L382.3 454.7 L383 454.8 L383.7 454.8 L384.4 454.9 L385.1 454.9 L385.8 454.9 L386.5 455 L387.2 455 L387.9 455.1 L388.6 455.1 L389.3 455.2 L389.8 455.2 L389.8 455.8 L389.3 455.8 L388.6 455.7 L387.9 455.7 L387.2 455.6 L386.5 455.6 L385.8 455.5 L385.1 455.5 L384.4 455.5 L383.7 455.4 L383 455.4 L382.3 455.3 L381.6 455.3 L380.9 455.2 L380.2 455.1 L379.5 455 L378.8 455 L378.1 454.9 L377.4 454.8 L376.7 454.8 L376 454.7 L375.3 454.6 L374.6 454.5 L373.9 454.5 L373.2 454.4 L372.5 454.3 L371.8 454.2 L371.1 454.1 L370.4 454 L369.7 453.9 L369 453.8 L368.3 453.4 L367.6 431.3 L366.9 365.7 L366.2 334.3 L365.5 329.8 L364.8 329.1 L364.1 331.6 L363.4 333.7 L362.7 332.7 L362 326.4 L361.3 325.4 L360.6 327.1 L359.9 331.6 L359.2 340 L358.5 348.6 L357.8 353.9 L357.1 362.5 L356.4 381.5 L355.7 414.1 L355 404.5 L354.3 394.9 L353.6 392.9 L352.9 390.5 L352.2 387.2 L351.5 383.7 L350.8 383.5 L350.1 383.2 L349.4 379.4 L348.7 372.1 L348 366.5 L347.3 369.1 L346.6 384.2 L345.9 393 L345.2 395.3 L344.5 398.7 L343.8 402.4 L343.1 407.7 L342.4 410.2 L341.7 413.6 L341 417.5 L340.3 415.4 L339.6 411.3 L338.9 406.1 L338.2 401.7 L337.5 395.9 L336.8 390.3 L336.1 385.2 L335.4 380.1 L334.7 372.3 L334 364.4 L333.3 358.4 L332.6 357.1 L331.9 356 L331.2 353.3 L330.5 352.3 L329.8 350.9 L329.1 349.6 L328.4 349.6 L327.7 351.5 L327 351 L326.3 350.9 L325.6 349.4 L324.9 347.6 L324.2 346.8 L323.5 346.5 L322.8 345.2 L322.1 343.6 L321.4 344 L320.7 345.6 L320 348.1 L319.3 349.1 L318.6 351.8 L317.9 352.6 L317.2 353.6 L316.5 355.6 L315.8 356.4 L315.1 358.6 L314.4 361.6 L313.7 367.4 L313 367.6 L312.3 369.9 L311.6 374.3 L310.9 378.9 L310.2 387.7 L309.5 394.1 L308.8 400 L308.1 404.6 L307.4 409.6 L306.7 415.1 L306 424.3 L305.3 440.2 L304.6 437.2 L303.9 401.1 L303.2 390.1 L302.5 384.7 L301.8 388.7 L301.1 395.5 L300.4 391.2 L299.7 379.8 L299 340.9 L298.3 324.7 L297.6 316.7 L296.9 310.2 L296.2 313.8 L295.5 325.1 L294.8 336.5 L294.1 341.4 L293.4 348.8 L292.7 357.2 L292 357 L291.3 360.7 L290.6 363 L289.9 367.1 L289.2 369.9 L288.5 372.8 L287.8 374.9 L287.1 376 L286.4 376.4 L285.7 368.6 L285 364.8 L284.3 354.5 L283.6 343.6 L282.9 336.9 L282.2 330.5 L281.5 324.1 L280.8 313.8 L280.1 303.6 L279.4 292.6 L278.7 288.5 L278 298.4 L277.3 306.8 L276.6 315.8 L275.9 326.9 L275.2 336.5 L274.5 343.7 L273.8 351.9 L273.1 357.7 L272.4 361.2 L271.7 365.9 L271 370.7 L270.3 372.6 L269.6 368.5 L268.9 366.7 L268.2 362.3 L267.5 360.3 L266.8 362.7 L266.1 364.5 L265.4 369.8 L264.7 373.4 L264 376.1 L263.3 378.3 L262.6 374.7 L261.9 372.9 L261.2 373 L260.5 371.4 L259.8 369.5 L259.1 369.1 L258.4 367.9 L257.7 366.8 L257 367.7 L256.3 367.4 L255.6 369.5 L254.9 370.2 L254.2 373.2 L253.5 374.1 L252.8 375.3 L252.1 374.3 L251.4 373.4 L250.7 372.6 L250 370.7 L249.3 369 L248.6 368 L247.9 364.4 L247.2 358.1 L246.5 349.3 L245.8 340.2 L245.1 335.4 L244.4 341.8 L243.7 344.8 L243 347.9 L242.3 353.5 L241.6 352.3 L240.9 346.9 L240.2 341.3 L239.5 336.4 L238.8 334.3 L238.1 339.6 L237.4 345.7 L236.7 356.4 L236 374.7 L235.3 412.6 L234.6 444.5 L233.9 417.6 L233.2 400.8 L232.5 389.2 L231.8 382.9 L231.1 373.2 L230.4 367.6 L229.7 362.3 L229 355.6 L228.3 352.2 L227.6 349.7 L226.9 349.2 L226.2 345.8 L225.5 345.3 L224.8 348 L224.1 355.9 L223.4 362.8 L222.7 367.7 L222 363.2 L221.3 361.2 L220.6 357.2 L219.9 353.9 L219.2 356.7 L218.5 360.7 L217.8 363.2 L217.1 366.6 L216.4 369.8 L215.7 373 L215 378.7 L214.3 381.9 L213.6 388.2 L212.9 396.7 L212.2 394.8 L211.5 393.4 L210.8 396.7 L210.1 398.2 L209.4 399.3 L208.7 401.6 L208 408.4 L207.3 422.1 L206.6 445.8 L205.9 446 L205.2 416.8 L204.5 392.4 L203.8 395.4 L203.1 401.8 L202.4 402.7 L201.7 398.3 L201 397.6 L200.3 394.8 L199.6 391.6 L198.9 389.3 L198.2 386.9 L197.5 383.1 L196.8 382.2 L196.1 377.6 L195.4 375.6 L194.7 373.1 L194 371.7 L193.3 368.9 L192.6 367.7 L191.9 366.6 L191.2 362.7 L190.5 361 L189.8 359.9 L189.1 358.3 L188.4 360.8 L187.7 356.4 L187 355.1 L186.3 354 L185.6 360.2 L184.9 367.2 L184.2 372.9 L183.5 374.9 L182.8 375.6 L182.1 374.2 L181.4 373.6 L180.7 373.3 L180 378.5 L179.3 376.6 L178.6 379.9 L177.9 383.9 L177.2 380.5 L176.5 376.4 L175.8 370.5 L175.1 366 L174.4 369.3 L173.7 379.7 L173 382.6 L172.3 388.2 L171.6 384.7 L170.9 380.2 L170.2 374.9 L169.5 373.9 L168.8 375 L168.1 373 L167.4 372.2 L166.7 372.7 L166 371.9 L165.3 371.8 L164.6 372 L163.9 372.7 L163.2 371.4 L162.5 369.8 L161.8 370.7 L161.1 373.8 L160.4 374.6 L159.7 377 L159 378.4 L158.3 380.8 L157.6 382.5 L156.9 381.5 L156.2 383.4 L155.5 384.7 L154.8 383.3 L154.1 385.4 L153.4 384.6 L152.7 385.3 L152 387.5 L151.3 388.6 L150.6 388.9 L149.9 390.6 L149.2 391.1 L148.5 390.9 L147.8 391.9 L147.1 390.4 L146.4 388.2 L145.7 386.6 L145 387.2 L144.3 387.4 L143.6 388.5 L142.9 389 L142.2 389.1 L141.5 390.3 L140.8 391.8 L140.1 389.2 L139.4 387.5 L138.7 386.7 L138 383.5 L137.3 386 L136.6 387.9 L135.9 391.2 L135.2 389 L134.5 382.7 L133.8 376.9 L133.1 370.4 L132.4 367.7 L131.7 365.3 L131 364.6 L130.3 367.5 L129.6 369.6 L128.9 372.2 L128.2 374.8 L127.5 376.1 L126.8 377 L126.1 378.2 L125.4 379.8 L124.7 385.2 L124 392.1 L123.3 395.9 L122.6 397.5 L121.9 400.7 L121.2 401.4 L120.5 399.3 L119.8 399.6 L119.1 398.5 L118.4 400.2 L117.7 400.6 L117 400.2 L116.3 398.1 L115.6 397.1 L114.9 397.4 L114.2 386.2 L113.5 357.8 L112.8 326 L112.1 316 L111.4 313.4 L110.7 318.5 L110 330.8 L109.3 340.9 L108.6 335.7 L107.9 339.9 L107.2 347.6 L106.5 349.6 L105.8 353.4 L105.1 358.5 L104.4 366.9 L103.7 377.6 L103 388.2 L102.3 396.7 L101.6 400.2 L100.9 411 L100.2 428.1 L99.5 439.8 L98.8 435 L98.1 425.4 L97.4 418.7 L96.7 412 L96 406.9 L95.3 405.1 L94.6 395.2 L93.9 387.8 L93.2 384.5 L92.5 379.1 L91.8 376.3 L91.1 372.2 L90.4 367 L89.7 365.1 L89 364.9 L88.3 361.1 L87.6 358.7 L86.9 358.1 L86.2 358.3 L85.5 356.7 L84.8 355.8 L84.1 353.2 L83.4 352.4 L82.7 352 L82 354.6 L81.3 355 L80.6 350.5 L79.9 349.4 L79.2 348.2 L78.5 349.4 L77.8 349.8 L77.1 346.6 L76.4 347.9 L75.7 348.1 L75 348.5 L74.3 349.9 L73.6 352.5 L72.9 354.4 L72.2 356.3 L71.5 358.9 L70.8 363.2 L70.1 366.5 L69.4 369.2 L68.7 372.6 L68 377 L67.3 379.5 L66.6 384.9 L65.9 387.9 L65.2 395 L64.5 401.2 L63.8 405.6 L63.1 410.1 L62.4 408.5 L61.7 409.3 L61 413.8 L60.3 414.4 L59.6 415.6 L58.9 413.3 L58.2 405.5 L57.5 399.8 L56.8 396.8 L56.1 393.1 L55.4 388.9 L54.7 382.1 L54 375.6 L53.3 369.8 L52.6 363.6 L51.9 374.5 L51.2 387.4 L50.5 404.3 L49.8 428.3 L49.1 425.5 L48.4 383.2 L47.7 359.4 L47 349.2 L46.3 350.9 L45.6 356.4 L44.9 365.8 L44.2 367.3 L43.5 359.2 L42.8 352.1 L42.1 346 L41.4 353.2 L40.7 361.9 L40 383.4 L39.3 414.7 L38.6 449.3 L37.9 453.6 L37.2 455.3 L36.5 455.3 L35.8 455.4 L35.1 455.4 L34.4 455.4 L33.7 455.4 L33 455.5 L32.3 455.5 L31.6 455.5 L30.9 455.6 L30.2 455.6 L29.5 455.6 L28.8 455.6 L28.1 455.7 L27.4 455.7 L26.7 455.7 L26 455.7 L25.3 455.8 L24.6 455.8Z" fill="#555" fill-opacity="0.34"/>
<path d="M24.6 455.5 L25.4 455.5 L26.1 455.4 L26.9 455.4 L27.6 455.3 L28.4 455.3 L29.1 455.3 L29.9 455.2 L30.6 455.2 L31.4 455.1 L32.1 455.1 L32.9 455.1 L33.6 455 L34.4 455 L35.1 454.9 L35.9 454.9 L36.6 454.9 L37.4 454.8 L38.1 449.9 L38.9 421.6 L39.6 388 L40.4 359.7 L41.1 351 L41.9 344 L42.6 348.1 L43.4 352.8 L44.1 357.8 L44.9 353.6 L45.6 348.2 L46.4 348.1 L47.1 344.7 L47.9 351.6 L48.6 357.6 L49.4 362.4 L50.1 359.9 L50.9 352.6 L51.6 344.5 L52.4 337.5 L53.1 341.2 L53.9 349.9 L54.6 363.3 L55.4 372.2 L56.1 382 L56.9 389.9 L57.6 397.7 L58.4 403 L59.1 409.4 L59.9 411 L60.6 411.3 L61.4 408.5 L62.1 406.2 L62.9 403 L63.6 400.1 L64.3 394.4 L65.1 391.2 L65.8 385.2 L66.6 381.1 L67.3 376.9 L68.1 373 L68.8 369 L69.6 364.2 L70.3 363 L71.1 358.5 L71.8 352.9 L72.6 350 L73.3 348.3 L74.1 344.6 L74.8 345.4 L75.6 343 L76.3 341.4 L77.1 342.3 L77.8 345.3 L78.6 343.4 L79.3 343.9 L80.1 346.1 L80.8 346.9 L81.6 347.5 L82.3 346.8 L83.1 346.8 L83.8 348.9 L84.6 350.3 L85.3 351.9 L86.1 351.4 L86.8 352.6 L87.6 354.3 L88.3 357.8 L89.1 358.8 L89.8 361.8 L90.6 362.8 L91.3 367.1 L92.1 372 L92.8 377.6 L93.6 382.1 L94.3 387.3 L95.1 392.3 L95.8 399 L96.6 404.9 L97.3 412.4 L98.1 419.1 L98.8 430.4 L99.6 426.2 L100.3 398.9 L101.1 386.8 L101.8 391.5 L102.6 391.2 L103.3 382.8 L104.1 374.1 L104.8 364.9 L105.6 358.2 L106.3 330.2 L107.1 325 L107.8 330.9 L108.6 338.9 L109.3 335.3 L110.1 329.3 L110.8 324.5 L111.6 318.6 L112.3 324.1 L113.1 336.4 L113.8 355.4 L114.6 363.5 L115.3 361.4 L116.1 363.3 L116.8 362.4 L117.6 360.8 L118.3 360.3 L119.1 361.2 L119.8 360.8 L120.6 360.1 L121.3 355.9 L122.1 348.3 L122.8 344.3 L123.6 342.5 L124.3 337 L125.1 336.1 L125.8 333.5 L126.6 329.3 L127.3 329.1 L128.1 323.3 L128.8 319.9 L129.6 322.8 L130.3 331.7 L131.1 340.3 L131.8 344.7 L132.6 345.9 L133.3 345.1 L134.1 345 L134.8 345.4 L135.6 347.4 L136.3 351.9 L137.1 358.9 L137.8 360.5 L138.6 365.4 L139.3 366.3 L140.1 367.1 L140.8 368.5 L141.6 368.2 L142.3 369.1 L143.1 371 L143.8 371.2 L144.6 370.8 L145.3 369.9 L146.1 370.3 L146.8 369.8 L147.6 368.1 L148.3 368 L149.1 364.9 L149.8 365.4 L150.6 363.1 L151.3 362.4 L152.1 360.3 L152.8 357.3 L153.6 354.8 L154.3 355.6 L155.1 351.9 L155.8 351.6 L156.6 350 L157.3 349.2 L158.1 350.7 L158.8 351.8 L159.6 350 L160.3 351.3 L161.1 350.7 L161.8 352.3 L162.6 352.8 L163.3 353.2 L164.1 354.3 L164.8 355.9 L165.6 359.3 L166.3 359.7 L167.1 360.5 L167.8 364.4 L168.6 366.6 L169.3 367 L170.1 368 L170.8 370.2 L171.6 372.3 L172.3 375.8 L173.1 369.9 L173.8 364.8 L174.6 359.5 L175.3 365.1 L176.1 372.3 L176.8 378.2 L177.6 383.7 L178.3 381.4 L179.1 376.4 L179.8 370.9 L180.6 369.3 L181.3 367.9 L182.1 368 L182.8 369.5 L183.6 367.2 L184.3 368.7 L185.1 369.4 L185.8 370.5 L186.6 369.2 L187.3 368 L188.1 364.7 L188.8 361.9 L189.6 358.7 L190.3 356.7 L191.1 353.8 L191.8 352.3 L192.6 348.9 L193.3 349 L194.1 353.1 L194.8 356 L195.6 357.6 L196.3 360.3 L197.1 360.3 L197.8 363.1 L198.6 366.7 L199.3 368.7 L200.1 371.7 L200.8 374.9 L201.6 375.9 L202.3 378.2 L203.1 377.2 L203.8 377 L204.6 376.8 L205.3 376.9 L206.1 377.8 L206.8 378.9 L207.6 380.1 L208.3 380.7 L209.1 382.5 L209.8 382.6 L210.6 386.2 L211.3 383 L212.1 382.8 L212.8 379.2 L213.6 375.3 L214.3 370.5 L215.1 366.2 L215.8 363.9 L216.6 361.1 L217.3 356.5 L218.1 353.5 L218.8 352 L219.6 349.4 L220.3 349.7 L221.1 352.5 L221.8 356.7 L222.6 358 L223.3 356.7 L224.1 349 L224.8 343.4 L225.6 339 L226.3 341.2 L227.1 341.5 L227.8 342.4 L228.6 345.2 L229.3 353.7 L230.1 359.4 L230.8 364.9 L231.6 371.2 L232.3 381.2 L233.1 391.3 L233.8 398.6 L234.6 400.9 L235.3 384 L236.1 364.2 L236.8 347.4 L237.6 337.8 L238.3 332.3 L239.1 335.9 L239.8 340.1 L240.6 342.3 L241.3 344.2 L242.1 340.5 L242.8 336.1 L243.6 331.3 L244.3 329.8 L245.1 324.7 L245.8 331.1 L246.6 335.4 L247.3 340.8 L248.1 344.9 L248.8 345.5 L249.6 349.2 L250.3 349.7 L251.1 350.2 L251.8 351.5 L252.6 352.9 L253.3 354.4 L254.1 355.1 L254.8 352.3 L255.6 352.4 L256.4 351.4 L257.1 353.9 L257.9 352.9 L258.6 354.3 L259.4 354.8 L260.1 354.8 L260.9 355.2 L261.6 353.7 L262.4 351.3 L263.1 350.2 L263.9 348.2 L264.6 344.7 L265.4 342.5 L266.1 342.7 L266.9 340.2 L267.6 333 L268.4 324.8 L269.1 329 L269.9 324.6 L270.6 319 L271.4 314.9 L272.1 310.7 L272.9 307.7 L273.6 303.6 L274.4 297.8 L275.1 288 L275.9 283 L276.6 273.5 L277.4 262.4 L278.1 265.5 L278.9 282.2 L279.6 297.9 L280.4 303.2 L281.1 309.3 L281.9 313.2 L282.6 318.8 L283.4 320.9 L284.1 325.5 L284.9 331.3 L285.6 333.1 L286.4 336.6 L287.1 339.4 L287.9 341 L288.6 340.7 L289.4 340.6 L290.1 339.3 L290.9 340.6 L291.6 337.8 L292.4 336.4 L293.1 331.8 L293.9 324.8 L294.6 319.4 L295.4 316.3 L296.1 310.7 L296.9 305.7 L297.6 303.6 L298.4 300.1 L299.1 304.2 L299.9 324.9 L300.6 343.1 L301.4 352.6 L302.1 359.3 L302.9 363.6 L303.6 364.2 L304.4 367.9 L305.1 372 L305.9 378 L306.6 387.7 L307.4 396.6 L308.1 406 L308.9 418.9 L309.6 426.8 L310.4 434.6 L311.1 432.5 L311.9 428.9 L312.6 423.2 L313.4 417.2 L314.1 411.2 L314.9 405.1 L315.6 397.7 L316.4 391.3 L317.1 385.3 L317.9 382.9 L318.6 380.2 L319.4 380 L320.1 381.2 L320.9 374.3 L321.6 368.6 L322.4 369.6 L323.1 372.1 L323.9 372.7 L324.6 375.6 L325.4 376.4 L326.1 377.5 L326.9 376.3 L327.6 375.1 L328.4 374.4 L329.1 375.7 L329.9 379.1 L330.6 380.3 L331.4 381 L332.1 383.1 L332.9 385.2 L333.6 381.7 L334.4 378.2 L335.1 375.8 L335.9 374.2 L336.6 374.8 L337.4 378.7 L338.1 378.7 L338.9 381 L339.6 381.9 L340.4 384.4 L341.1 384.6 L341.9 386.2 L342.6 387.3 L343.4 388.1 L344.1 391.4 L344.9 391.8 L345.6 387.2 L346.4 382.4 L347.1 380.7 L347.9 386.6 L348.6 393.5 L349.4 394.1 L350.1 382 L350.9 365.3 L351.6 347.4 L352.4 355.2 L353.1 368.3 L353.9 382.6 L354.6 399 L355.4 413.5 L356.1 412 L356.9 394 L357.6 370.5 L358.4 348.2 L359.1 342.6 L359.9 340.7 L360.6 336.7 L361.4 337.5 L362.1 337.8 L362.9 338.7 L363.6 341.6 L364.4 344 L365.1 343.7 L365.9 349 L366.6 391.2 L367.4 452.5 L368.1 453 L368.9 453.4 L369.6 453.6 L370.4 453.7 L371.1 453.8 L371.9 453.9 L372.6 454 L373.4 454.1 L374.1 454.2 L374.9 454.3 L375.6 454.4 L376.4 454.4 L377.1 454.5 L377.9 454.6 L378.6 454.7 L379.4 454.7 L380.1 454.8 L380.9 454.9 L381.6 455 L382.4 455 L383.1 455.1 L383.9 455.1 L384.6 455.2 L385.4 455.2 L386.1 455.3 L386.9 455.3 L387.6 455.4 L388.4 455.4 L389.1 455.5 L389.8 455.5" fill="none" stroke="#2a6acb" stroke-width="0.75" stroke-linejoin="round"/>
<path d="M24.6 455.5 L25.4 455.5 L26.1 455.4 L26.9 455.4 L27.6 455.4 L28.4 455.4 L29.1 455.3 L29.9 455.3 L30.6 455.3 L31.4 455.2 L32.1 455.2 L32.9 455.2 L33.6 455.2 L34.4 455.1 L35.1 455.1 L35.9 455.1 L36.6 455 L37.4 455 L38.1 452.2 L38.9 432.5 L39.6 396 L40.4 365.5 L41.1 352.1 L41.9 345 L42.6 343.9 L43.4 353.8 L44.1 361.8 L44.9 361 L45.6 352.6 L46.4 346.3 L47.1 344.3 L47.9 356.8 L48.6 383.2 L49.4 420.4 L50.1 403.9 L50.9 386.4 L51.6 372.8 L52.4 363.8 L53.1 365.6 L53.9 370.9 L54.6 376.9 L55.4 385.1 L56.1 386.9 L56.9 393.5 L57.6 396.3 L58.4 402.9 L59.1 408.9 L59.9 410 L60.6 411.5 L61.4 406.6 L62.1 404.8 L62.9 401.9 L63.6 398 L64.3 394.1 L65.1 387.9 L65.8 383.2 L66.6 379.2 L67.3 376.3 L68.1 371.3 L68.8 367.7 L69.6 365.3 L70.3 361.6 L71.1 357.2 L71.8 354.3 L72.6 351.3 L73.3 347.9 L74.1 347.1 L74.8 345.7 L75.6 345.5 L76.3 343.8 L77.1 342.9 L77.8 347 L78.6 344.1 L79.3 344 L80.1 346.3 L80.8 346.3 L81.6 348.2 L82.3 346.2 L83.1 347.8 L83.8 349.9 L84.6 351.2 L85.3 353.6 L86.1 352.8 L86.8 354.9 L87.6 355.9 L88.3 358.2 L89.1 360.1 L89.8 363.3 L90.6 365.9 L91.3 369 L92.1 374 L92.8 376.7 L93.6 383.2 L94.3 388.3 L95.1 395.4 L95.8 400.9 L96.6 405.4 L97.3 413.2 L98.1 421.8 L98.8 429.5 L99.6 434.6 L100.3 421.5 L101.1 398.3 L101.8 393 L102.6 389.4 L103.3 376.7 L104.1 366.4 L104.8 357.5 L105.6 350.7 L106.3 345.3 L107.1 343.4 L107.8 337 L108.6 332 L109.3 337.8 L110.1 325.6 L110.8 312 L111.6 306 L112.3 310.9 L113.1 333.7 L113.8 372.4 L114.6 385.8 L115.3 392.5 L116.1 393 L116.8 393.6 L117.6 395.1 L118.3 395.4 L119.1 393.7 L119.8 393.2 L120.6 396 L121.3 396 L122.1 395.4 L122.8 394.6 L123.6 390.5 L124.3 383.4 L125.1 377.3 L125.8 371.8 L126.6 367.1 L127.3 366.8 L128.1 363.7 L128.8 361.4 L129.6 358.7 L130.3 356 L131.1 355.2 L131.8 358.1 L132.6 363.6 L133.3 366.1 L134.1 373 L134.8 380.5 L135.6 387.6 L136.3 384.6 L137.1 380.7 L137.8 378.1 L138.6 380.4 L139.3 382.4 L140.1 384.8 L140.8 385.3 L141.6 386.9 L142.3 384.6 L143.1 381.9 L143.8 381.6 L144.6 381.3 L145.3 380.8 L146.1 380.5 L146.8 383.7 L147.6 385 L148.3 383.6 L149.1 383.9 L149.8 381.8 L150.6 380.3 L151.3 379.5 L152.1 378.5 L152.8 379.4 L153.6 377 L154.3 376.6 L155.1 379.4 L155.8 377.8 L156.6 376.2 L157.3 376.8 L158.1 374.2 L158.8 373.9 L159.6 373.4 L160.3 371.4 L161.1 369.5 L161.8 366.7 L162.6 366.2 L163.3 366.1 L164.1 368.5 L164.8 368.1 L165.6 368.8 L166.3 367.5 L167.1 367.3 L167.8 370.1 L168.6 371.5 L169.3 371.1 L170.1 371.6 L170.8 376.6 L171.6 381.3 L172.3 384.5 L173.1 377 L173.8 367.5 L174.6 357.8 L175.3 361.8 L176.1 368.5 L176.8 373.1 L177.6 378.8 L178.3 378.1 L179.1 372.8 L179.8 372.1 L180.6 370.6 L181.3 370.9 L182.1 370.3 L182.8 369.8 L183.6 369.4 L184.3 365 L185.1 358.2 L185.8 353 L186.6 351.2 L187.3 351.7 L188.1 351.9 L188.8 354.3 L189.6 356.5 L190.3 355.9 L191.1 359.4 L191.8 362.4 L192.6 364.1 L193.3 365.7 L194.1 367 L194.8 368.8 L195.6 373.4 L196.3 374.9 L197.1 379.1 L197.8 382.3 L198.6 383.2 L199.3 385.9 L200.1 390.8 L200.8 392.9 L201.6 392.6 L202.3 393.5 L203.1 391.2 L203.8 391.5 L204.6 389.5 L205.3 414.9 L206.1 439.8 L206.8 430 L207.6 409.3 L208.3 399.5 L209.1 397.2 L209.8 393.4 L210.6 391 L211.3 392 L212.1 391.2 L212.8 391.6 L213.6 386 L214.3 377.2 L215.1 372.8 L215.8 368.6 L216.6 363.3 L217.3 360 L218.1 357 L218.8 353.8 L219.6 351.8 L220.3 351.5 L221.1 355.1 L221.8 357.5 L222.6 363.4 L223.3 359.5 L224.1 351 L224.8 344.1 L225.6 341.7 L226.3 342.4 L227.1 345.9 L227.8 346.2 L228.6 349 L229.3 354.9 L230.1 359.4 L230.8 367 L231.6 373.2 L232.3 381.7 L233.1 394.9 L233.8 405.3 L234.6 415 L235.3 393.9 L236.1 367.7 L236.8 349.1 L237.6 340.3 L238.3 334.7 L239.1 329.7 L239.8 333.8 L240.6 340.8 L241.3 344.7 L242.1 349.6 L242.8 346.1 L243.6 341.4 L244.3 338.4 L245.1 331.8 L245.8 337.7 L246.6 345.4 L247.3 356.3 L248.1 360.7 L248.8 363.9 L249.6 367.1 L250.3 368.1 L251.1 369.7 L251.8 370.6 L252.6 372.8 L253.3 371.3 L254.1 369.9 L254.8 368.1 L255.6 364.1 L256.4 363.8 L257.1 364.3 L257.9 363.7 L258.6 362.4 L259.4 364.1 L260.1 366.3 L260.9 366.2 L261.6 367.5 L262.4 367.8 L263.1 370.1 L263.9 370.8 L264.6 370.3 L265.4 364 L266.1 361.7 L266.9 358 L267.6 354.8 L268.4 360.3 L269.1 363.8 L269.9 365 L270.6 369.5 L271.4 363.5 L272.1 359.4 L272.9 356.3 L273.6 351.3 L274.4 340.7 L275.1 334.8 L275.9 323.5 L276.6 312 L277.4 301.2 L278.1 291.7 L278.9 283.3 L279.6 290.7 L280.4 303.3 L281.1 314 L281.9 321.5 L282.6 330.1 L283.4 337.6 L284.1 347.2 L284.9 357.3 L285.6 364.8 L286.4 367 L287.1 369.8 L287.9 368.5 L288.6 366.6 L289.4 363.4 L290.1 362.9 L290.9 357.8 L291.6 353.1 L292.4 349.6 L293.1 346.4 L293.9 340 L294.6 330.3 L295.4 320.1 L296.1 311.9 L296.9 305.7 L297.6 312.9 L298.4 320.5 L299.1 341 L299.9 378.7 L300.6 390.2 L301.4 387 L302.1 383.2 L302.9 384.1 L303.6 392.9 L304.4 410.8 L305.1 441.4 L305.9 422.3 L306.6 412 L307.4 405.6 L308.1 400.3 L308.9 396 L309.6 390 L310.4 380.6 L311.1 372.2 L311.9 368.8 L312.6 363 L313.4 357.2 L314.1 354.6 L314.9 352.1 L315.6 350.9 L316.4 349.7 L317.1 348 L317.9 347.4 L318.6 344.1 L319.4 342.5 L320.1 339.2 L320.9 338.2 L321.6 336 L322.4 336 L323.1 336.7 L323.9 340.3 L324.6 341.1 L325.4 341.3 L326.1 343.6 L326.9 346.5 L327.6 345.3 L328.4 346.3 L329.1 344.9 L329.9 346.8 L330.6 349.5 L331.4 349.7 L332.1 351.6 L332.9 353.7 L333.6 356 L334.4 361.1 L335.1 369.1 L335.9 373.1 L336.6 375.2 L337.4 377.1 L338.1 379.8 L338.9 382.4 L339.6 386.5 L340.4 390.5 L341.1 394.3 L341.9 392.4 L342.6 391.6 L343.4 390.8 L344.1 391.5 L344.9 389.5 L345.6 387.1 L346.4 383.3 L347.1 367.6 L347.9 359.4 L348.6 366.9 L349.4 373.5 L350.1 378 L350.9 377.6 L351.6 382.4 L352.4 385.8 L353.1 387.3 L353.9 389.1 L354.6 395.8 L355.4 403.8 L356.1 389.2 L356.9 361.7 L357.6 352.4 L358.4 345.4 L359.1 336.4 L359.9 327.2 L360.6 323.6 L361.4 318.5 L362.1 322.1 L362.9 329.1 L363.6 328.6 L364.4 324.6 L365.1 322.4 L365.9 327.7 L366.6 342.5 L367.4 402 L368.1 453.1 L368.9 453.4 L369.6 453.6 L370.4 453.7 L371.1 453.8 L371.9 453.9 L372.6 454 L373.4 454.1 L374.1 454.2 L374.9 454.3 L375.6 454.4 L376.4 454.4 L377.1 454.5 L377.9 454.6 L378.6 454.7 L379.4 454.7 L380.1 454.8 L380.9 454.9 L381.6 455 L382.4 455 L383.1 455.1 L383.9 455.1 L384.6 455.2 L385.4 455.2 L386.1 455.3 L386.9 455.3 L387.6 455.4 L388.4 455.4 L389.1 455.5 L389.8 455.5" fill="none" stroke="#1a1c30" stroke-width="0.75" stroke-linejoin="round"/>
</g>
<rect x="24.6" y="201.3" width="365.2" height="282" fill="none" stroke="#767676" stroke-width="1"/>
<path d="M24.6 483.3v-3.6M24.6 201.3v3.6" stroke="#767676" stroke-width="0.8"/>
<text x="24.6" y="497.4" text-anchor="middle" class="tk">-180</text>
<path d="M207.2 483.3v-3.6M207.2 201.3v3.6" stroke="#767676" stroke-width="0.8"/>
<text x="207.2" y="497.4" text-anchor="middle" class="tk">0</text>
<path d="M389.8 483.3v-3.6M389.8 201.3v3.6" stroke="#767676" stroke-width="0.8"/>
<text x="389.8" y="497.4" text-anchor="middle" class="tk">+180</text>
<path d="M24.6 456h3.6M389.8 456h-3.6" stroke="#767676" stroke-width="0.8"/>
<text x="20.4" y="459.3" text-anchor="end" class="tk">0</text>
<path d="M24.6 385.2h3.6M389.8 385.2h-3.6" stroke="#767676" stroke-width="0.8"/>
<text x="20.4" y="388.6" text-anchor="end" class="tk">500</text>
<path d="M24.6 314.5h3.6M389.8 314.5h-3.6" stroke="#767676" stroke-width="0.8"/>
<text x="20.4" y="317.8" text-anchor="end" class="tk">1000</text>
<path d="M24.6 243.8h3.6M389.8 243.8h-3.6" stroke="#767676" stroke-width="0.8"/>
<text x="20.4" y="247.1" text-anchor="end" class="tk">1500</text>
<rect x="309.3" y="211.4" width="71.2" height="26.4" fill="#fff" stroke="#7a7a7a" stroke-width="1"/>
<path d="M313.1 218.6h28.8" stroke="#4f9fd6" stroke-width="0.9"/>
<path d="M313.1 230.8h28.8" stroke="#444" stroke-width="0.8"/>
<text x="344.6" y="221.8" class="tk">native</text>
<text x="344.6" y="234" class="tk">injection</text>
<text x="61.1" y="262.2" class="rt">Ratio injection / native: 0.404</text>
<text x="207.2" y="511.6" text-anchor="middle" class="mm">mm</text>
<!-- right plot -->
<g clip-path="url(#cr)">
<rect x="598.1" y="200.6" width="25" height="283" fill="#fccaca"/>
<path d="M445.7 283 L446.4 286.5 L447.4 291.5 L448.4 296 L449.1 298.6 L449.8 300.9 L450.7 305.3 L452.1 314.6 L453.7 326.1 L455.3 334.4 L456.8 336.8 L458.3 335.9 L459.9 334.4 L461.8 332.4 L463.9 329.7 L466 328.3 L468 329.6 L470 332.2 L472.2 334.4 L474.7 335.7 L477.3 336.4 L479.8 336 L482 333.6 L484.1 329.9 L486 326.8 L487.7 324.5 L489.2 322.8 L490.6 322.2 L491.7 323.7 L492.6 326.3 L493.6 328.3 L494.8 329.1 L496.1 329.2 L497.5 328.3 L499.2 325.2 L501 321.1 L502.8 319 L504.4 321.3 L505.9 325.8 L507.4 328.3 L508.9 326.9 L510.5 323.6 L512 320.7 L513.6 319.1 L515.2 317.8 L516.6 316 L517.7 313.3 L518.7 310.1 L519.7 306.9 L520.9 303.5 L522.2 300.2 L523.5 298.4 L524.8 299.1 L526 301.4 L527.4 303.8 L528.9 306.2 L530.4 308.8 L532 310 L533.5 308.9 L535.1 306.5 L536.6 304.6 L538 303.5 L539.5 302.8 L541.1 303 L543 304.8 L545.2 307.5 L547.3 310 L549.3 311.7 L551.3 313.1 L553.4 314.5 L555.6 315.7 L557.9 316.8 L560 318.4 L561.9 320.7 L563.7 323.4 L565.3 326 L566.7 328.5 L568 330.9 L569.2 333 L570.5 334.4 L571.7 335.4 L573 337 L574.3 339.9 L575.5 343.3 L576.8 346 L578.1 346.8 L579.5 346.9 L580.7 348 L581.7 351.6 L582.6 356.4 L583.7 360 L585.2 361.9 L586.9 362.6 L588.3 362 L589.2 358.9 L589.8 354.4 L590.5 352 L591.2 353.8 L592 357.6 L592.9 360 L594.1 359.4 L595.4 357.4 L596.7 355 L598 352.5 L599.4 349.7 L600.6 347 L601.6 344.3 L602.6 341.8 L603.6 340.6 L604.9 341.7 L606.2 344.1 L607.5 346 L608.5 346.8 L609.4 347.1 L610.5 347 L612 346.2 L613.6 345.1 L615.1 345 L616.2 346.4 L617.2 348.8 L618.2 352 L619.3 356.9 L620.3 362.6 L621.3 366 L622.1 365.6 L622.8 362.9 L623.6 360 L624.5 357.1 L625.5 354.1 L626.6 352 L627.8 351.7 L629.2 352.3 L630.5 353 L631.7 353.6 L633 354.2 L634.3 354 L635.8 351.8 L637.4 348.8 L638.9 348 L640 352.3 L641 358.9 L642 362 L643 358.6 L643.9 351.7 L645 345 L646.2 339.7 L647.5 334.6 L648.9 330 L650.6 326.5 L652.5 323.5 L654.2 320 L655.6 315.6 L656.9 310.6 L658 305 L658.8 297.9 L659.4 290.2 L660 284 L660.7 279.8 L661.5 277.1 L662.3 276.4 L663.2 279.1 L664.3 283.9 L665.4 287 L666.5 286.7 L667.7 284.7 L669.2 283.3 L671.1 283.6 L673.3 284.4 L675.3 284 L677 281.2 L678.5 277.1 L679.9 273.3 L681 269.5 L682 265.9 L683 264.9 L684 268.2 L684.9 274.1 L686 279.4 L687.2 283.2 L688.6 286.4 L689.9 288.6 L691.1 289.8 L692.3 290.1 L693.7 289.4 L695.6 286.9 L697.8 283.3 L699.8 281 L701.4 281.9 L702.9 284.1 L704.4 284 L706 278.6 L707.5 271 L709 266.4 L710.4 268.1 L711.7 273 L712.9 276.4 L713.9 276.7 L714.8 275.7 L715.9 274 L717.6 271.7 L719.5 268.9 L721.3 266 L723 263.8 L724.6 261.6 L725.9 258 L726.8 251.7 L727.5 244.1 L728.2 238 L728.9 234.8 L729.5 233.1 L730.5 232 L732 231.2 L733.8 230.9 L735.9 231 L738.5 229.7 L741.3 228.8 L743.5 233 L744.4 246.3 L744.7 264.8 L745 281 L745.5 292.3 L746.1 301.4 L746.6 308.6 L747 313.4 L747.5 316.3 L748 320 L748.7 325.4 L749.5 331.5 L750.4 338 L751.4 345.1 L752.5 352.7 L753.5 360 L754.5 367.4 L755.4 374.5 L756.4 380 L757.5 383.2 L758.5 384.9 L759.5 385.5 L760.2 385.5 L760.8 384.4 L761.5 382 L762.5 379 L763.6 374.5 L764.6 366 L765.5 350.3 L766.4 330.5 L767.3 313 L768.3 300.5 L769.3 290.3 L770.3 281 L771.4 271.4 L772.4 262.7 L773.4 256.5 L774.3 254.2 L775.1 254.5 L775.6 255 L775.6 300 L774.6 305 L773.3 312.2 L772 320 L771.1 328.1 L770.3 336.9 L769.5 345 L768.8 352 L768.2 358.5 L767.5 365 L766.7 371.7 L765.9 378.3 L765 385 L764 392.2 L763 399.4 L762 405 L761.1 408.1 L760.3 409.6 L759.5 410 L758.7 409.7 L757.9 408.4 L757 406 L756 402.4 L755 397.6 L754 392 L753 385.4 L752 377.9 L751 370 L750.1 361.3 L749.3 352.3 L748.5 345 L747.8 340 L747.2 336.7 L746.6 335 L746.1 335.3 L745.6 337.3 L745 339.8 L744.1 343 L743 346.7 L742 349 L741.2 349.8 L740.4 349.3 L739.7 346 L739.2 337.4 L738.8 326 L738.2 318 L737.3 316.7 L736.2 318.8 L735.1 320 L734.1 318.1 L733.1 315.3 L732 313.8 L730.6 314.9 L729 317.4 L727.4 320 L725.9 322.3 L724.3 324.7 L722.8 327.6 L721.3 332.4 L719.7 337.7 L718.2 339 L716.6 333.1 L715 323.2 L713.6 315.3 L712.5 310.4 L711.6 307.4 L710.6 309 L709.4 318.5 L708 332.7 L706.7 344 L705.5 349.3 L704.2 351.8 L702.9 353.6 L701.4 354.9 L699.8 355.6 L698.3 356.7 L697.1 359.4 L696.1 362.7 L695.2 364.4 L694.5 363.9 L693.8 361.8 L693 358.2 L691.9 352.4 L690.5 345.1 L689.1 338.3 L687.6 332.5 L686.1 327.1 L684.5 323 L683.1 320.3 L681.7 318.9 L679.9 318.4 L677.5 319.1 L674.7 320.8 L672.3 323 L670.7 325.9 L669.4 329.3 L667.7 332.2 L665.2 334.5 L662.3 336.3 L660 336.8 L659 334.8 L658.6 331.4 L658 330 L656.9 332.1 L655.6 336 L654.2 340 L652.5 343.2 L650.6 346.4 L648.9 350 L647.5 354.2 L646.2 358.9 L645 364 L643.9 370.5 L643 377.5 L642 382 L641 382.3 L640 380.2 L638.9 378 L637.4 376.3 L635.8 374.4 L634.3 373 L633 372.6 L631.7 372.7 L630.5 372 L629.2 369.1 L627.8 365.4 L626.6 364 L625.5 366.7 L624.5 371.6 L623.6 376 L622.8 379.7 L622.1 383 L621.3 384 L620.3 381.1 L619.3 375.8 L618.2 371 L617.2 367.2 L616.2 363.9 L615.1 362 L613.6 362.5 L612 364.4 L610.5 366 L609.4 366.8 L608.5 367.1 L607.5 366.7 L606.2 364.6 L604.9 361.7 L603.6 360 L602.6 360.4 L601.6 362 L600.6 364 L599.4 366.5 L598 369.4 L596.7 372 L595.4 373.8 L594.2 375.2 L592.9 377 L591.6 380 L590.2 383.3 L589 385 L587.9 383.1 L587 379.6 L586 378 L585 380.9 L583.9 385.7 L583 388 L582.2 385.7 L581.6 381 L580.7 376 L579.5 371.3 L578.2 366.4 L576.8 362 L575.5 358.4 L574.3 355.4 L573 353 L571.7 351.4 L570.5 350.3 L569.2 349 L568 347.2 L566.7 345.1 L565.3 343 L563.6 340.6 L561.8 338.1 L560 336 L558.3 334.9 L556.6 334.2 L554.9 333 L553.3 330.6 L551.8 327.6 L550.3 325.2 L548.8 324 L547.2 323.4 L545.7 322.2 L544.2 319.8 L542.6 316.8 L541.1 314.5 L539.6 313.1 L538.1 312.4 L536.6 313 L535.3 316 L534 320.4 L532.7 323.7 L531.5 324.9 L530.3 324.9 L528.9 324.5 L527.2 322.9 L525.2 320.7 L523.5 320.7 L522.1 324.3 L521 330.1 L519.7 336 L518.2 342.3 L516.6 348.8 L515 352.8 L513.4 352 L511.9 348.6 L510.5 346.7 L509.4 348.1 L508.4 351.1 L507.4 354.4 L506.2 358.6 L505 363.2 L503.6 365.3 L501.9 363.1 L500 358.5 L498.2 354.4 L496.7 351.6 L495.2 349.4 L493.6 348.2 L491.7 348.8 L489.6 350.4 L487.5 351.3 L485.5 350.3 L483.5 348.7 L481.4 348.2 L479 349.8 L476.6 352.5 L474.5 355.3 L473 357.8 L471.8 360.3 L470.7 363 L469.6 366.5 L468.5 370.1 L467.6 372.2 L466.8 371.2 L466 368.7 L465.3 367.6 L464.6 368.9 L463.8 371.5 L463 375.2 L462 380.3 L460.9 386.5 L459.9 392 L459.1 396.6 L458.3 400.6 L457.6 402.8 L456.9 402.9 L456.2 401.2 L455.3 398.2 L454 393.4 L452.3 387.2 L450.7 381.4 L448.9 376.1 L447 371.1 L445.7 367.6Z" fill="#6b6bf5" fill-opacity="0.37" stroke-linejoin="round"/>
<path d="M445.7 317.6 L447 315 L448.9 311.5 L450.7 310 L452.3 312.1 L453.8 316.2 L455.3 320.7 L456.8 325.8 L458.3 331.2 L459.9 334.4 L461.9 334 L464 331.3 L466 328.3 L467.6 325.3 L469.1 322 L470.7 319 L472.4 316 L474.2 313.2 L476 312.2 L477.8 314.4 L479.7 318.3 L481.4 320.7 L483 320.6 L484.5 319 L486 316 L487.6 311 L489.2 304.7 L490.6 299.2 L491.7 295 L492.6 291.7 L493.6 290 L494.8 290.9 L496.2 293.5 L497.5 296 L498.7 297.8 L499.9 299.5 L501.3 300.7 L503.2 301 L505.4 300.9 L507.4 301.5 L509 303.5 L510.5 306.3 L512 308.4 L513.6 309.6 L515.2 310.1 L516.6 310 L517.7 309 L518.7 307.2 L519.7 305.3 L520.9 302.8 L522.2 300.2 L523.5 299.2 L524.8 301.2 L526 304.9 L527.4 308.4 L528.9 311.6 L530.4 314.5 L532 316 L533.6 314.6 L535.2 311.6 L536.6 310 L537.7 310.8 L538.5 313 L539.6 316 L541 320.2 L542.5 325.4 L544.2 329.8 L546.1 333 L548.2 335.5 L550.3 337.5 L552.4 338.7 L554.5 339.3 L556.5 340.6 L558.3 343.2 L559.9 346.5 L561.5 349 L563.1 349.8 L564.6 349.9 L566.1 351 L567.4 354.3 L568.7 358.5 L570 362 L571.5 364 L573 365.3 L574.5 366 L576 366.1 L577.5 365.7 L579 365 L580.6 363.4 L582.2 361.5 L583.7 361 L584.9 363.1 L586 366.6 L587 370 L588 373.1 L589 376.2 L590 378 L591 377.7 L592 376.1 L593 375 L594.1 374.4 L595.1 374.2 L596 376 L596.6 381 L597.1 388.1 L597.5 395 L598 401.2 L598.5 407.3 L599 413 L599.5 418.3 L600 423.3 L600.5 428 L601 432.8 L601.4 437.3 L602 440.5 L602.8 441.6 L603.6 441.5 L604.5 441 L605.3 440.5 L606.1 439.8 L607 439 L608 437.8 L609 436.6 L610 436.7 L610.9 439.1 L611.7 442.9 L612.5 446 L613.1 448.2 L613.7 449.9 L614.3 450 L614.9 447.9 L615.6 444.3 L616.2 440 L616.8 435.3 L617.5 429.9 L618 424 L618.4 417.5 L618.7 410.5 L619 404 L619.3 398.3 L619.6 393 L620 388 L620.5 383.1 L621 378.4 L621.5 374 L621.9 369.2 L622.3 364.6 L622.8 362 L623.6 362.6 L624.5 365.3 L625.5 368 L626.5 370.8 L627.5 373.7 L628.5 375 L629.5 373.3 L630.5 369.9 L631.5 367 L632.5 365.3 L633.5 364.1 L634.5 363 L635.5 362 L636.5 361 L637.5 360 L638.5 358.3 L639.4 356.4 L640.4 356 L641.4 358.2 L642.5 361.8 L643.5 365 L644.5 367.5 L645.6 369.6 L646.6 370 L647.5 367.9 L648.5 364.2 L649.6 360 L651 355.6 L652.6 350.8 L654.2 346 L655.7 341.2 L657.3 336.4 L658.8 332 L660.2 328.2 L661.6 324.9 L663 322 L664.5 319.7 L666.1 317.8 L667.7 316 L669.2 314.4 L670.8 312.9 L672.3 311 L673.8 308.4 L675.3 305.4 L676.9 302.4 L678.9 299.3 L681.1 296.2 L683 293.2 L684.5 289.9 L685.7 286.7 L686.8 285.6 L687.7 287.1 L688.4 290.7 L689.1 296.3 L689.9 305.1 L690.7 315.9 L691.5 325 L692.3 332.1 L693.1 337.4 L694 338 L694.9 330.7 L695.8 318.7 L696.8 308.6 L697.8 302.4 L698.7 298.2 L699.8 296.3 L701 299 L702.4 304.1 L703.7 305.5 L705 299.2 L706.3 289.1 L707.5 281 L708.4 276.8 L709.1 274.7 L709.8 274.8 L710.6 278.7 L711.3 284.9 L712.1 288.6 L712.9 287.3 L713.7 283.6 L714.5 280 L715.1 278.1 L715.7 276.5 L716.7 273.3 L718.3 266.4 L720.3 257.9 L722.1 252.6 L723.5 253 L724.6 256.7 L725.9 261 L727.4 264.8 L729 269.2 L730.5 274.8 L731.7 282.5 L732.7 291.4 L733.6 299.4 L734.4 305.7 L735.2 311.2 L736 316 L736.8 320.4 L737.6 324.1 L738.5 327 L739.6 328.5 L740.8 329.1 L742 330 L743.1 331.7 L744.1 333.7 L745 336 L745.8 338.5 L746.5 341.3 L747.2 345 L748.1 350.2 L749 356.3 L750 362 L751 366.8 L752 371.2 L753 375 L754 378.2 L755 380.9 L756 383 L757.1 384.7 L758.3 385.9 L759.5 386 L760.7 384.9 L761.9 382.8 L763 380 L763.9 377.4 L764.7 374.1 L765.5 368 L766.2 358 L766.9 345 L767.5 330 L767.9 310.6 L768.3 289.1 L768.8 273.3 L769.5 267.2 L770.2 266.7 L771.1 267.2 L772.1 267.7 L773.3 269.1 L774.2 270 L774.8 269.6 L775.3 268.7 L775.6 268 L775.6 340 L774.9 345.9 L773.9 354.6 L772.8 365 L771.6 377.4 L770.2 391.7 L768.7 406 L767.1 420.7 L765.3 435.6 L763.6 448 L762 457.6 L760.4 464.8 L759 468 L757.7 466.4 L756.6 460.9 L755.4 452 L754.1 438.7 L752.7 422 L751.3 406 L750 391.1 L748.7 376.8 L747.4 366 L746.1 360.2 L744.8 357.9 L743.5 356.7 L742.3 356.9 L741 358.3 L739.7 358.2 L738.2 355.1 L736.7 350.5 L735.1 346 L733.5 341.8 L731.9 337.7 L730.5 335.2 L729.4 335 L728.5 336.4 L727.4 338.3 L726 340.6 L724.4 343.5 L722.8 346 L721.1 349.2 L719.2 352.1 L717.5 350.6 L715.9 340.3 L714.4 325.6 L712.9 315.3 L711.5 313.2 L710.2 315.6 L709 320 L708 326.7 L707.1 335.5 L706 343 L704.6 348 L703 351.9 L701.4 355.2 L699.8 357.9 L698.3 360.1 L696.8 362.8 L695.5 367.8 L694.2 373.3 L693 375 L691.7 370.6 L690.4 362.5 L689.1 353.6 L687.9 343.6 L686.7 332.8 L685.3 324.5 L683.6 320.1 L681.7 318.2 L679.9 317.6 L678.4 318.4 L677 320.6 L675.3 323 L673 325.1 L670.4 327.4 L667.7 330.6 L664.9 335.7 L662.1 341.6 L660 346 L659.2 347.3 L659.2 347.1 L658.8 348 L657.5 351.1 L655.8 355.3 L654.2 360 L652.7 365.3 L651.3 371 L650 376 L648.8 380 L647.6 383.1 L646.6 385 L645.7 385 L644.9 383.7 L644 382 L643 379.6 L642 376.8 L641 376 L640 379.1 L639 384.2 L638.1 387.3 L637.4 386.3 L636.7 383.4 L636 381 L635.1 379.8 L634 379 L633 379 L632 380.1 L631 381.9 L630 384 L629.1 386.6 L628.2 389.3 L627.4 391 L626.6 390.8 L625.8 389.4 L625 388 L624.1 386 L623.3 383.9 L622.5 384 L621.9 387.4 L621.5 393.1 L621 400 L620.5 408.5 L619.9 418.3 L619.3 427 L618.7 433.3 L618.1 438.7 L617.5 445 L616.9 454.2 L616.4 464.3 L615.6 471.8 L614.5 474.3 L613.2 474.1 L611.9 474.2 L610.6 476 L609.3 478 L608.2 479.2 L607.3 479.5 L606.5 478.9 L605.7 476.7 L604.7 472.3 L603.7 466.3 L602.6 459.5 L601.5 451.7 L600.5 443.1 L599.5 435 L598.7 427.9 L598.1 421.3 L597.5 415 L597 408.8 L596.5 403 L596 398 L595.4 394 L594.8 390.8 L594 389 L593.1 388.7 L592 389.7 L591 392 L590.1 397.3 L589.2 403.9 L588.3 407.2 L587.4 404.4 L586.4 398.2 L585.5 392 L584.7 386.3 L583.9 380.6 L582.9 377 L581.4 376.9 L579.6 378.9 L578 381 L576.7 383 L575.5 385.2 L574.5 386.5 L573.6 386.4 L572.8 385.4 L572 384 L571.1 382.4 L570.1 380.4 L569 378 L567.8 375 L566.4 371.5 L565 368 L563.5 364.3 L561.9 360.6 L560 357.4 L557.5 354.7 L554.6 352.5 L551.9 351.3 L549.6 352.1 L547.6 353.8 L545.7 354.4 L544 352.7 L542.5 349.8 L541.1 346.7 L540 343.1 L539.1 339.4 L538 337.5 L536.6 339.2 L535.1 342.8 L533.5 345.2 L532 344.7 L530.4 343 L528.9 342 L527.3 343.2 L525.7 345 L524.3 345.2 L523.3 342.2 L522.4 337.5 L521.2 333 L519.3 329.3 L517.1 325.8 L515 323 L513.4 321.3 L512.1 320.3 L510.5 319 L508.6 316.6 L506.5 314.1 L504.4 313 L502.2 314 L500 316.5 L498.2 320.7 L496.9 327.4 L496 335.8 L495.2 343 L494.6 347.3 L494 350.5 L492.9 355.3 L490.9 364.6 L488.4 375.5 L486 382.1 L483.8 381.2 L481.7 376 L479.8 370.7 L478.1 366 L476.7 361.1 L475.2 358.4 L473.8 359.3 L472.3 362.4 L470.7 365 L468.6 365.9 L466.4 366.4 L464.5 367.6 L463.3 369.9 L462.4 372.9 L461.5 376.8 L460.5 383.5 L459.4 391 L458.4 393.6 L457.4 388 L456.4 377.5 L455.3 366.6 L453.9 355.8 L452.3 344.5 L450.7 336 L448.9 331.9 L447 330.5 L445.7 329.8Z" fill="#4a4a4a" fill-opacity="0.36" stroke-linejoin="round"/>
<path d="M445.7 330.6 L446.3 331 L447.2 331.4 L448.2 332.4 L449.2 334.4 L450.1 337.7 L451.1 342.1 L452.1 346.9 L453 351.3 L453.9 355.5 L454.7 359.8 L455.5 363.7 L456.1 366.6 L456.5 368.7 L456.8 370.2 L457.1 370.7 L457.6 369.9 L458.4 367.1 L459.5 362.7 L460.5 358 L461.5 354.4 L462.3 352.2 L463 350.6 L463.7 349.6 L464.5 349 L465.4 349.1 L466.4 349.8 L467.4 350.5 L468.4 350.5 L469.5 349.4 L470.7 347.6 L471.8 345.8 L473 344.4 L474.1 343.7 L475.2 343.5 L476.3 343.3 L477.5 342.9 L478.8 342.2 L480.1 341.4 L481.5 340.6 L482.9 339.8 L484.4 339.1 L486 338.6 L487.6 338 L489 337.5 L490.3 337 L491.4 336.5 L492.5 336.1 L493.6 336 L494.6 336.3 L495.6 337 L496.5 337.7 L497.5 338.3 L498.4 338.7 L499.4 339 L500.3 339.3 L501.3 339.8 L502.4 340.8 L503.5 342.2 L504.7 343.3 L505.9 343.6 L507.1 342.5 L508.3 340.5 L509.5 338.4 L510.5 336.7 L511.4 335.7 L512.1 335.1 L512.9 334.7 L513.6 334.4 L514.4 334.5 L515.1 334.9 L515.8 335.1 L516.6 334.4 L517.4 332.6 L518.1 330 L518.9 326.9 L519.7 323.7 L520.6 319.9 L521.6 315.6 L522.6 311.7 L523.5 309.2 L524.3 308.5 L525.1 309.1 L525.8 310.3 L526.6 311.5 L527.4 312.8 L528.2 314.4 L528.9 315.9 L529.7 316.8 L530.4 317 L531.2 316.8 L531.9 316.2 L532.7 315.3 L533.6 313.8 L534.6 311.7 L535.6 309.7 L536.6 308.4 L537.7 307.9 L538.8 308 L540 308.4 L541.1 309.2 L542.2 310.4 L543.4 312 L544.5 313.8 L545.7 315.3 L546.8 316.4 L547.9 317.3 L549.1 318.3 L550.3 319.5 L551.7 321.3 L553.1 323.5 L554.6 325.5 L556.1 326.9 L557.5 327.2 L558.9 326.9 L560.3 326.5 L561.5 326.9 L562.6 328.3 L563.5 330.3 L564.4 332.5 L565.3 334.5 L566.3 336.3 L567.2 338.2 L568.2 339.9 L569.2 341.4 L570.2 342.4 L571.1 343.2 L572.1 343.9 L573 345.2 L573.9 347.1 L574.9 349.4 L575.8 351.9 L576.8 354.4 L577.8 357.2 L578.8 360.1 L579.8 363 L580.7 365.2 L581.5 366.7 L582.2 367.7 L582.9 368.4 L583.7 369 L584.7 369.5 L585.9 369.7 L587.1 369.8 L588.3 369.8 L589.5 369.6 L590.6 369.3 L591.8 368.9 L592.9 368.2 L593.9 367.3 L594.8 366.3 L595.8 365 L596.7 363.6 L597.7 361.9 L598.7 359.9 L599.7 357.8 L600.6 356 L601.4 354.2 L602.1 352.5 L602.8 351.1 L603.6 350.6 L604.5 351.3 L605.6 352.9 L606.6 354.7 L607.5 356 L608.3 356.6 L609 356.9 L609.7 356.9 L610.5 356.7 L611.6 355.9 L612.8 354.7 L614 353.7 L615.1 353.7 L616 354.8 L616.7 356.7 L617.5 359.2 L618.2 362 L619 365.9 L619.8 370.8 L620.6 375.1 L621.3 377.4 L621.9 376.9 L622.5 374.4 L623 371.2 L623.6 368.2 L624.3 365.3 L625 361.9 L625.8 359.1 L626.6 357.5 L627.5 357.8 L628.5 359.5 L629.5 361.5 L630.5 362.9 L631.4 363.3 L632.4 363.3 L633.3 363.3 L634.3 363.6 L635.4 364.5 L636.6 365.7 L637.8 367 L638.9 368.2 L639.8 369.9 L640.6 371.9 L641.3 373.3 L642 372.8 L642.7 369.7 L643.4 364.8 L644.2 359.2 L645 354.4 L645.9 350.6 L646.8 347 L647.8 343.7 L648.9 340.6 L650.2 337.8 L651.6 335.2 L652.9 332.7 L654.2 330 L655.3 326.9 L656.2 323.6 L657.1 320.4 L658 317.7 L659 315.5 L659.9 313.7 L660.9 312.3 L661.9 311 L662.9 310.1 L664 309.4 L665 308.9 L666.1 308.4 L667.2 307.8 L668.4 307.3 L669.5 306.7 L670.7 306 L671.9 305 L673.1 303.9 L674.3 302.7 L675.3 301.5 L676 300.2 L676.5 298.8 L676.9 297.5 L677.6 296.3 L678.6 295.2 L679.9 294 L681.1 293.2 L682.2 293 L683.1 293.6 L683.8 294.7 L684.6 296.2 L685.3 297.8 L686.1 299.6 L686.9 301.7 L687.7 303.8 L688.4 305.5 L689 306.4 L689.6 306.8 L690.1 307.5 L690.7 309.2 L691.4 312.7 L692.2 317.3 L693 321.9 L693.7 325.3 L694.3 327.3 L694.9 328.4 L695.4 328.7 L696 328.4 L696.7 326.9 L697.4 324.3 L698.2 321.7 L699 320 L699.9 320 L700.9 321 L702 321.9 L702.9 321.5 L703.8 319.3 L704.5 316 L705.3 312.4 L706 309.2 L706.6 306.5 L707.2 304 L707.8 301.8 L708.3 300 L708.8 298.6 L709.3 297.6 L709.9 297 L710.5 297 L711.2 297.9 L712 299.5 L712.8 301.4 L713.6 303 L714.4 304.5 L715.2 306.1 L716 307.3 L716.7 307.7 L717.4 306.8 L718 305 L718.5 303 L719 301.5 L719.4 301 L719.6 301 L719.9 300.8 L720.5 299.4 L721.4 296.4 L722.4 292.4 L723.7 288 L725 284 L726.5 280.1 L728.2 276 L729.9 272.7 L731.3 271 L732.4 271.6 L733.4 273.9 L734.3 276.8 L735.1 279.4 L735.9 281.7 L736.6 284.1 L737.4 286.3 L738.2 287.9 L739.1 288.6 L740.2 288.6 L741.1 288.6 L742 289.4 L742.7 291.3 L743.2 293.8 L743.8 296.7 L744.3 299.4 L744.9 302.1 L745.5 304.8 L746.1 307.5 L746.6 310 L746.9 311.9 L747 313.3 L747.1 315.2 L747.4 318.4 L748 323.4 L748.8 329.7 L749.6 336.5 L750.4 343 L751.2 349.2 L752 355.3 L752.7 361.5 L753.5 367.4 L754.2 373.3 L754.9 379.2 L755.7 384.8 L756.4 389.6 L757.2 393.8 L758 397.6 L758.8 400.4 L759.5 402 L760.1 402.1 L760.5 400.9 L760.9 398.7 L761.5 395.7 L762.2 391.3 L763 385.7 L763.9 379.9 L764.6 375 L765.2 371.3 L765.7 368.3 L766.2 365.6 L766.6 363 L767 361 L767.2 359.5 L767.5 357.4 L768 353.6 L768.7 347.5 L769.4 339.8 L770.3 331.3 L771.1 323 L771.9 314.3 L772.8 305 L773.5 296.5 L774.2 290 L774.7 286.3 L775.1 284.4 L775.4 283.6 L775.6 283" fill="none" stroke="#2c62c4" stroke-width="0.8" stroke-linejoin="round"/>
<path d="M445.7 323 L446.5 322.4 L447.7 321.4 L448.9 320.8 L450 321.4 L450.8 323.5 L451.5 326.5 L452.2 330.3 L453 334.4 L453.9 339.3 L455 344.9 L456 350.3 L456.9 354.4 L457.6 357 L458.2 358.5 L458.8 359.2 L459.6 359.2 L460.6 358.2 L461.8 356.2 L463.1 353.8 L464.5 351.3 L466 348.7 L467.6 345.8 L469.2 343 L470.7 340.6 L472 338.6 L473.1 336.7 L474.2 335.5 L475.2 335.2 L476.2 336.3 L477.1 338.5 L478.1 341.2 L479.1 343.6 L480.2 346 L481.4 348.7 L482.6 350.9 L483.7 352 L484.7 351.9 L485.6 351 L486.5 349.3 L487.5 346.7 L488.6 342.9 L489.8 338.1 L491 333 L492.1 328.3 L493.1 324 L494 319.8 L494.9 316.1 L495.9 313 L497 310.9 L498.2 309.4 L499.4 308.4 L500.5 307.6 L501.5 306.8 L502.5 306.3 L503.4 306 L504.4 306.1 L505.4 306.7 L506.3 307.7 L507.3 308.9 L508.2 310 L509.1 311.1 L510.1 312.4 L511 313.5 L512 314.5 L513.1 315.3 L514.3 315.9 L515.5 316.4 L516.6 316.8 L517.6 317 L518.6 317 L519.5 317.1 L520.5 317.6 L521.4 318.7 L522.4 320.2 L523.3 321.9 L524.3 323.7 L525.4 325.7 L526.6 327.9 L527.8 329.9 L528.9 331.4 L529.7 332.2 L530.5 332.6 L531.2 332.6 L532 332.1 L533.1 330.8 L534.3 328.8 L535.5 326.9 L536.6 326 L537.4 326.4 L538.1 327.6 L538.8 329.4 L539.6 331.4 L540.6 334 L541.8 337.3 L543 340.5 L544.2 342.9 L545.4 344.3 L546.6 345 L547.7 345.4 L548.8 346 L549.8 346.9 L550.7 347.9 L551.7 348.7 L552.6 349 L553.5 348.3 L554.5 346.9 L555.4 345.7 L556.5 345.8 L557.7 347.9 L559 351.4 L560.3 354.9 L561.5 357.5 L562.7 358.3 L563.9 358.2 L565 358.1 L566.1 359 L567.1 361.5 L568.1 364.9 L569 368.4 L569.9 371.3 L570.7 373.5 L571.4 375.3 L572.1 376.7 L573 377.4 L574 377.3 L575.2 376.6 L576.4 375.5 L577.6 374.4 L578.9 372.8 L580.3 370.8 L581.7 369.3 L582.9 369 L583.8 370.5 L584.6 373.3 L585.3 376.6 L586 379.6 L586.8 382.7 L587.6 386.1 L588.3 389 L589.1 390.3 L589.9 389.3 L590.6 386.8 L591.3 383.9 L592.1 381.9 L592.9 381 L593.7 380.6 L594.5 380.8 L595.2 381.9 L595.7 384.1 L596 387.3 L596.4 391.1 L596.7 395 L597.1 399.3 L597.5 404 L597.9 408.8 L598.3 413.3 L598.7 417.4 L599 421.3 L599.4 425 L599.8 428.6 L600.2 431.9 L600.5 434.9 L600.9 437.9 L601.4 441 L602 444.5 L602.6 448.2 L603.3 451.7 L603.9 454.5 L604.4 456.6 L604.8 458.3 L605.2 459.4 L605.7 460.1 L606.3 460.1 L607 459.6 L607.6 458.8 L608.2 458.2 L608.7 457.7 L609.1 457.2 L609.5 456.9 L610 457 L610.7 457.9 L611.6 459.3 L612.4 460.7 L613.1 461.3 L613.6 461.1 L614.1 460.4 L614.5 459.1 L614.9 457 L615.4 453.8 L615.8 449.7 L616.3 445.3 L616.8 441 L617.3 437.1 L617.8 433.2 L618.2 429.3 L618.6 425 L618.9 420.2 L619.1 414.9 L619.3 409.7 L619.5 405 L619.7 400.9 L620 397.2 L620.2 393.7 L620.5 390.3 L620.9 387 L621.3 383.7 L621.7 380.7 L622 378 L622.2 375.3 L622.4 372.6 L622.5 370.5 L622.8 369.8 L623.3 371 L623.8 373.5 L624.4 376.5 L625.1 379 L625.8 381.1 L626.6 383.1 L627.4 384.6 L628.2 385 L629 383.7 L629.7 381.1 L630.4 378.2 L631.2 375.9 L632 374.4 L632.7 373.2 L633.5 372.2 L634.3 371.3 L635.1 370.6 L635.9 370.1 L636.6 369.6 L637.4 369 L638.2 368 L638.9 366.8 L639.6 366 L640.4 366 L641.2 367.4 L641.9 369.7 L642.7 372.3 L643.5 374.4 L644.3 376.2 L645.1 377.9 L645.8 379 L646.6 379 L647.3 377.5 L648 374.8 L648.7 371.6 L649.6 368.2 L650.6 364.7 L651.8 360.8 L653 356.8 L654.2 352.9 L655.4 348.9 L656.5 344.8 L657.7 341 L658.8 337.6 L659.9 334.9 L660.9 332.7 L661.9 330.8 L663 329 L664.1 327.3 L665.3 325.8 L666.5 324.3 L667.7 323 L668.9 321.8 L670 320.9 L671.2 319.8 L672.3 318.4 L673.5 316.4 L674.7 314 L675.9 311.8 L676.9 310 L677.6 309 L678.1 308.4 L678.6 308.1 L679.2 307.8 L680.1 307.3 L681.1 306.9 L682.1 306.6 L683 306.7 L683.8 307 L684.6 307.4 L685.3 308.3 L686 310 L686.6 312.8 L687.2 316.5 L687.8 320.6 L688.4 324.5 L689.1 328.5 L689.9 332.6 L690.7 336.5 L691.4 339.8 L692.1 342.5 L692.7 344.7 L693.3 346.2 L694 346.7 L694.7 345.8 L695.4 343.7 L696.1 341 L696.8 338.3 L697.5 335.2 L698.2 331.7 L699 328.4 L699.8 326 L700.7 325.3 L701.8 325.6 L702.8 326 L703.7 325.3 L704.4 323.3 L705 320.6 L705.5 317.4 L706 313.8 L706.6 309.6 L707.2 304.7 L707.8 300 L708.3 296.3 L708.7 293.9 L709 292.4 L709.4 291.5 L709.8 291 L710.3 290.8 L710.9 291 L711.5 291.8 L712.1 293.2 L712.7 295.7 L713.2 299.2 L713.8 302.7 L714.4 305.5 L715 307.5 L715.5 309 L716.1 309.9 L716.7 310 L717.4 308.9 L718.2 306.7 L719 304.3 L719.8 302.4 L720.5 301 L721.2 299.8 L722 299 L722.8 298.6 L723.7 299 L724.7 299.9 L725.8 301 L726.7 301.7 L727.5 301.8 L728.3 301.5 L729 301.3 L729.7 301.7 L730.3 303 L730.9 304.9 L731.5 306.9 L732 308.6 L732.4 309.7 L732.8 310.4 L733.2 311.4 L733.6 313 L734.1 315.7 L734.7 319.1 L735.3 322.8 L735.9 326 L736.4 328.9 L737 331.7 L737.5 334.1 L738.2 336 L739.1 337 L740.1 337.4 L741.1 337.6 L742 338.3 L742.7 339.4 L743.2 340.6 L743.7 342.2 L744.3 344.4 L745 347.3 L745.8 350.8 L746.6 354.6 L747.4 358.2 L748.2 361.4 L748.9 364.5 L749.7 367.9 L750.4 372 L751.1 377.1 L751.8 382.9 L752.5 389.2 L753.3 395.7 L754.3 403.2 L755.3 411.6 L756.4 419.2 L757.4 424.5 L758.2 427.1 L759 427.7 L759.7 426.8 L760.5 424.5 L761.3 420.6 L762.1 414.9 L762.8 408.5 L763.6 402 L764.4 395.5 L765.2 388.7 L765.9 381.7 L766.6 375 L767.2 368.5 L767.6 362.2 L768.1 356 L768.5 350 L768.9 344.2 L769.3 338.7 L769.8 333.2 L770.3 327.6 L771 321.7 L771.8 315.6 L772.7 309.8 L773.4 304.6 L774.1 300 L774.7 295.9 L775.2 292.4 L775.6 290" fill="none" stroke="#1b1b24" stroke-width="0.8" stroke-linejoin="round"/>
</g>
<rect x="445.6" y="200.6" width="329.8" height="283" fill="none" stroke="#767676" stroke-width="1"/>
<path d="M445.6 483.6v-3.6M445.6 200.6v3.6" stroke="#767676" stroke-width="0.8"/>
<text x="445.6" y="497" text-anchor="middle" class="tk">-30</text>
<path d="M528 483.6v-3.6M528 200.6v3.6" stroke="#767676" stroke-width="0.8"/>
<text x="528" y="497" text-anchor="middle" class="tk">-15</text>
<path d="M610.5 483.6v-3.6M610.5 200.6v3.6" stroke="#767676" stroke-width="0.8"/>
<text x="610.5" y="497" text-anchor="middle" class="tk">0</text>
<path d="M693 483.6v-3.6M693 200.6v3.6" stroke="#767676" stroke-width="0.8"/>
<text x="693" y="497" text-anchor="middle" class="tk">+15</text>
<path d="M775.4 483.6v-3.6M775.4 200.6v3.6" stroke="#767676" stroke-width="0.8"/>
<text x="775.4" y="497" text-anchor="middle" class="tk">+30</text>
<path d="M445.6 484h3.6M775.4 484h-3.6" stroke="#767676" stroke-width="0.8"/>
<text x="441.4" y="487.3" text-anchor="end" class="tk">0</text>
<path d="M445.6 365.9h3.6M775.4 365.9h-3.6" stroke="#767676" stroke-width="0.8"/>
<text x="441.4" y="369.2" text-anchor="end" class="tk">500</text>
<path d="M445.6 247.8h3.6M775.4 247.8h-3.6" stroke="#767676" stroke-width="0.8"/>
<text x="441.4" y="251.1" text-anchor="end" class="tk">1000</text>
<rect x="694.6" y="209.9" width="71.2" height="27" fill="#fff" stroke="#7a7a7a" stroke-width="1"/>
<path d="M698.4 217.1h28.8" stroke="#4f9fd6" stroke-width="0.9"/>
<path d="M698.4 229.3h28.8" stroke="#444" stroke-width="0.8"/>
<text x="729.9" y="220.3" class="tk">native</text>
<text x="729.9" y="232.5" class="tk">injection</text>
<text x="458.9" y="261.5" class="rt">Ratio injection / native: 0.404</text>
<text x="610.5" y="511.6" text-anchor="middle" class="mm">mm</text>
</svg>
</body></html>
